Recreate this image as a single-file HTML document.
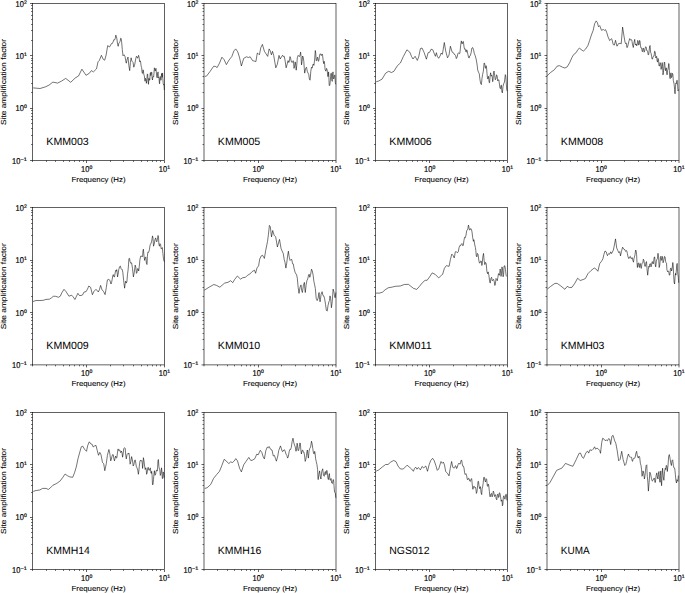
<!DOCTYPE html>
<html><head><meta charset="utf-8"><style>
html,body{margin:0;padding:0;background:#fff;}
svg{display:block;}
text{font-family:'Liberation Sans', sans-serif;fill:#000;text-rendering:geometricPrecision;}
.b{stroke:#000;stroke-width:0.08px;}
.t{stroke:#000;stroke-width:0.18px;}
</style></head><body>
<svg width="685" height="593" viewBox="0 0 685 593">
<rect width="685" height="593" fill="#fff"/>
<line x1="30.00" y1="160.50" x2="32.50" y2="160.50" stroke="#000" stroke-width="0.62"/>
<text x="26.84" y="160.55" text-anchor="end" font-size="5.1" class="t" textLength="6.30" lengthAdjust="spacingAndGlyphs">−1</text>
<text x="20.34" y="163.60" text-anchor="end" font-size="8.45" class="t" textLength="8.3" lengthAdjust="spacingAndGlyphs">10</text>
<line x1="31.00" y1="144.50" x2="32.50" y2="144.50" stroke="#000" stroke-width="0.55"/>
<line x1="31.00" y1="135.50" x2="32.50" y2="135.50" stroke="#000" stroke-width="0.55"/>
<line x1="31.00" y1="128.50" x2="32.50" y2="128.50" stroke="#000" stroke-width="0.55"/>
<line x1="31.00" y1="123.50" x2="32.50" y2="123.50" stroke="#000" stroke-width="0.55"/>
<line x1="31.00" y1="119.50" x2="32.50" y2="119.50" stroke="#000" stroke-width="0.55"/>
<line x1="31.00" y1="116.50" x2="32.50" y2="116.50" stroke="#000" stroke-width="0.55"/>
<line x1="31.00" y1="113.50" x2="32.50" y2="113.50" stroke="#000" stroke-width="0.55"/>
<line x1="31.00" y1="110.50" x2="32.50" y2="110.50" stroke="#000" stroke-width="0.55"/>
<line x1="30.00" y1="108.50" x2="32.50" y2="108.50" stroke="#000" stroke-width="0.62"/>
<text x="26.84" y="108.22" text-anchor="end" font-size="5.1" class="t">0</text>
<text x="23.80" y="111.27" text-anchor="end" font-size="8.45" class="t" textLength="8.3" lengthAdjust="spacingAndGlyphs">10</text>
<line x1="31.00" y1="92.50" x2="32.50" y2="92.50" stroke="#000" stroke-width="0.55"/>
<line x1="31.00" y1="83.50" x2="32.50" y2="83.50" stroke="#000" stroke-width="0.55"/>
<line x1="31.00" y1="76.50" x2="32.50" y2="76.50" stroke="#000" stroke-width="0.55"/>
<line x1="31.00" y1="71.50" x2="32.50" y2="71.50" stroke="#000" stroke-width="0.55"/>
<line x1="31.00" y1="67.50" x2="32.50" y2="67.50" stroke="#000" stroke-width="0.55"/>
<line x1="31.00" y1="63.50" x2="32.50" y2="63.50" stroke="#000" stroke-width="0.55"/>
<line x1="31.00" y1="60.50" x2="32.50" y2="60.50" stroke="#000" stroke-width="0.55"/>
<line x1="31.00" y1="58.50" x2="32.50" y2="58.50" stroke="#000" stroke-width="0.55"/>
<line x1="30.00" y1="55.50" x2="32.50" y2="55.50" stroke="#000" stroke-width="0.62"/>
<text x="26.84" y="55.88" text-anchor="end" font-size="5.1" class="t">1</text>
<text x="23.80" y="58.93" text-anchor="end" font-size="8.45" class="t" textLength="8.3" lengthAdjust="spacingAndGlyphs">10</text>
<line x1="31.00" y1="40.50" x2="32.50" y2="40.50" stroke="#000" stroke-width="0.55"/>
<line x1="31.00" y1="30.50" x2="32.50" y2="30.50" stroke="#000" stroke-width="0.55"/>
<line x1="31.00" y1="24.50" x2="32.50" y2="24.50" stroke="#000" stroke-width="0.55"/>
<line x1="31.00" y1="19.50" x2="32.50" y2="19.50" stroke="#000" stroke-width="0.55"/>
<line x1="31.00" y1="15.50" x2="32.50" y2="15.50" stroke="#000" stroke-width="0.55"/>
<line x1="31.00" y1="11.50" x2="32.50" y2="11.50" stroke="#000" stroke-width="0.55"/>
<line x1="31.00" y1="8.50" x2="32.50" y2="8.50" stroke="#000" stroke-width="0.55"/>
<line x1="31.00" y1="5.50" x2="32.50" y2="5.50" stroke="#000" stroke-width="0.55"/>
<line x1="30.00" y1="3.50" x2="32.50" y2="3.50" stroke="#000" stroke-width="0.62"/>
<text x="26.84" y="3.55" text-anchor="end" font-size="5.1" class="t">2</text>
<text x="23.80" y="6.60" text-anchor="end" font-size="8.45" class="t" textLength="8.3" lengthAdjust="spacingAndGlyphs">10</text>
<line x1="86.50" y1="160.50" x2="86.50" y2="163.00" stroke="#000" stroke-width="0.62"/>
<text x="81.06" y="171.75" font-size="8.45" class="t" textLength="8.3" lengthAdjust="spacingAndGlyphs">10</text>
<text x="89.56" y="168.55" font-size="5.1" class="t">0</text>
<line x1="164.50" y1="160.50" x2="164.50" y2="163.00" stroke="#000" stroke-width="0.62"/>
<text x="158.75" y="171.75" font-size="8.45" class="t" textLength="8.3" lengthAdjust="spacingAndGlyphs">10</text>
<text x="167.25" y="168.55" font-size="5.1" class="t">1</text>
<line x1="32.50" y1="160.50" x2="32.50" y2="162.00" stroke="#000" stroke-width="0.55"/>
<line x1="46.50" y1="160.50" x2="46.50" y2="162.00" stroke="#000" stroke-width="0.55"/>
<line x1="55.50" y1="160.50" x2="55.50" y2="162.00" stroke="#000" stroke-width="0.55"/>
<line x1="63.50" y1="160.50" x2="63.50" y2="162.00" stroke="#000" stroke-width="0.55"/>
<line x1="69.50" y1="160.50" x2="69.50" y2="162.00" stroke="#000" stroke-width="0.55"/>
<line x1="74.50" y1="160.50" x2="74.50" y2="162.00" stroke="#000" stroke-width="0.55"/>
<line x1="79.50" y1="160.50" x2="79.50" y2="162.00" stroke="#000" stroke-width="0.55"/>
<line x1="83.50" y1="160.50" x2="83.50" y2="162.00" stroke="#000" stroke-width="0.55"/>
<line x1="110.50" y1="160.50" x2="110.50" y2="162.00" stroke="#000" stroke-width="0.55"/>
<line x1="123.50" y1="160.50" x2="123.50" y2="162.00" stroke="#000" stroke-width="0.55"/>
<line x1="133.50" y1="160.50" x2="133.50" y2="162.00" stroke="#000" stroke-width="0.55"/>
<line x1="141.50" y1="160.50" x2="141.50" y2="162.00" stroke="#000" stroke-width="0.55"/>
<line x1="147.50" y1="160.50" x2="147.50" y2="162.00" stroke="#000" stroke-width="0.55"/>
<line x1="152.50" y1="160.50" x2="152.50" y2="162.00" stroke="#000" stroke-width="0.55"/>
<line x1="156.50" y1="160.50" x2="156.50" y2="162.00" stroke="#000" stroke-width="0.55"/>
<line x1="160.50" y1="160.50" x2="160.50" y2="162.00" stroke="#000" stroke-width="0.55"/>
<polyline points="33.10,87.90 40.10,88.50 45.50,86.80 48.90,85.20 52.90,82.10 57.60,83.10 61.70,81.00 65.70,78.40 70.70,82.30 75.20,78.00 78.50,76.00 81.90,69.20 86.00,75.30 89.30,73.30 91.40,70.60 93.40,71.90 96.50,68.80 98.00,61.80 99.30,60.50 101.40,55.30 103.10,59.10 104.70,60.20 106.10,55.10 107.70,45.60 109.50,47.00 111.50,43.60 112.30,43.50 113.10,41.90 113.80,39.78 114.50,40.00 115.15,38.65 115.80,35.10 116.35,36.44 116.90,38.90 117.55,43.91 118.20,46.30 118.90,43.01 119.60,42.30 120.15,41.23 120.70,38.20 121.15,38.51 121.60,41.60 122.30,49.59 123.00,55.80 124.00,54.72 125.00,56.40 125.65,60.51 126.30,63.20 127.15,59.21 128.00,57.10 128.85,65.68 129.70,70.60 130.40,62.52 131.10,57.80 131.75,60.55 132.40,61.80 133.10,62.60 133.80,67.20 134.80,64.09 135.80,58.40 136.45,56.26 137.10,57.10 137.55,58.24 138.00,57.00 138.60,55.34 139.20,58.00 139.60,61.65 140.00,61.70 140.35,60.81 140.70,62.40 141.05,65.67 141.40,67.10 141.70,67.80 142.00,71.90 142.35,73.44 142.70,73.20 143.05,69.82 143.40,70.80 143.75,74.14 144.10,75.20 144.40,76.13 144.70,78.90 145.05,81.22 145.40,78.30 145.90,79.07 146.40,83.30 146.85,79.96 147.30,73.90 147.65,74.33 148.00,79.30 148.25,82.94 148.50,84.30 148.80,78.59 149.10,78.30 149.45,80.27 149.80,80.00 150.15,73.70 150.50,72.50 150.80,75.62 151.10,74.60 151.45,72.19 151.80,72.20 152.15,78.79 152.50,80.00 152.85,76.73 153.20,76.60 153.60,76.97 154.00,73.20 154.35,67.81 154.70,68.50 155.20,71.00 155.70,69.20 156.00,68.37 156.30,71.90 156.75,76.84 157.20,77.90 157.65,73.04 158.10,71.90 158.45,77.88 158.80,77.30 159.10,78.89 159.40,83.30 159.65,83.85 159.90,77.90 160.25,76.41 160.60,77.30 160.95,80.29 161.30,76.60 161.60,73.44 161.90,75.20 162.15,77.37 162.40,73.50 162.60,72.95 162.80,77.30 163.20,83.45 163.60,84.70 163.95,84.04 164.30,90.10" fill="none" stroke="#000" stroke-width="0.55" stroke-linejoin="round"/>
<rect x="32.50" y="3.50" width="132.0" height="157.00" fill="none" stroke="#000" stroke-width="0.62"/>
<text x="46.30" y="144.60" font-size="10.5" textLength="42.47" lengthAdjust="spacingAndGlyphs">KMM003</text>
<text x="98.50" y="182.00" text-anchor="middle" font-size="7.3" class="b" textLength="54" lengthAdjust="spacingAndGlyphs">Frequency (Hz)</text>
<text transform="translate(6.00,82.00) rotate(-90)" text-anchor="middle" font-size="7.3" class="b" textLength="86" lengthAdjust="spacingAndGlyphs">Site amplification factor</text>
<line x1="201.50" y1="160.50" x2="204.00" y2="160.50" stroke="#000" stroke-width="0.62"/>
<text x="198.34" y="160.55" text-anchor="end" font-size="5.1" class="t" textLength="6.30" lengthAdjust="spacingAndGlyphs">−1</text>
<text x="191.84" y="163.60" text-anchor="end" font-size="8.45" class="t" textLength="8.3" lengthAdjust="spacingAndGlyphs">10</text>
<line x1="202.50" y1="144.50" x2="204.00" y2="144.50" stroke="#000" stroke-width="0.55"/>
<line x1="202.50" y1="135.50" x2="204.00" y2="135.50" stroke="#000" stroke-width="0.55"/>
<line x1="202.50" y1="128.50" x2="204.00" y2="128.50" stroke="#000" stroke-width="0.55"/>
<line x1="202.50" y1="123.50" x2="204.00" y2="123.50" stroke="#000" stroke-width="0.55"/>
<line x1="202.50" y1="119.50" x2="204.00" y2="119.50" stroke="#000" stroke-width="0.55"/>
<line x1="202.50" y1="116.50" x2="204.00" y2="116.50" stroke="#000" stroke-width="0.55"/>
<line x1="202.50" y1="113.50" x2="204.00" y2="113.50" stroke="#000" stroke-width="0.55"/>
<line x1="202.50" y1="110.50" x2="204.00" y2="110.50" stroke="#000" stroke-width="0.55"/>
<line x1="201.50" y1="108.50" x2="204.00" y2="108.50" stroke="#000" stroke-width="0.62"/>
<text x="198.34" y="108.22" text-anchor="end" font-size="5.1" class="t">0</text>
<text x="195.30" y="111.27" text-anchor="end" font-size="8.45" class="t" textLength="8.3" lengthAdjust="spacingAndGlyphs">10</text>
<line x1="202.50" y1="92.50" x2="204.00" y2="92.50" stroke="#000" stroke-width="0.55"/>
<line x1="202.50" y1="83.50" x2="204.00" y2="83.50" stroke="#000" stroke-width="0.55"/>
<line x1="202.50" y1="76.50" x2="204.00" y2="76.50" stroke="#000" stroke-width="0.55"/>
<line x1="202.50" y1="71.50" x2="204.00" y2="71.50" stroke="#000" stroke-width="0.55"/>
<line x1="202.50" y1="67.50" x2="204.00" y2="67.50" stroke="#000" stroke-width="0.55"/>
<line x1="202.50" y1="63.50" x2="204.00" y2="63.50" stroke="#000" stroke-width="0.55"/>
<line x1="202.50" y1="60.50" x2="204.00" y2="60.50" stroke="#000" stroke-width="0.55"/>
<line x1="202.50" y1="58.50" x2="204.00" y2="58.50" stroke="#000" stroke-width="0.55"/>
<line x1="201.50" y1="55.50" x2="204.00" y2="55.50" stroke="#000" stroke-width="0.62"/>
<text x="198.34" y="55.88" text-anchor="end" font-size="5.1" class="t">1</text>
<text x="195.30" y="58.93" text-anchor="end" font-size="8.45" class="t" textLength="8.3" lengthAdjust="spacingAndGlyphs">10</text>
<line x1="202.50" y1="40.50" x2="204.00" y2="40.50" stroke="#000" stroke-width="0.55"/>
<line x1="202.50" y1="30.50" x2="204.00" y2="30.50" stroke="#000" stroke-width="0.55"/>
<line x1="202.50" y1="24.50" x2="204.00" y2="24.50" stroke="#000" stroke-width="0.55"/>
<line x1="202.50" y1="19.50" x2="204.00" y2="19.50" stroke="#000" stroke-width="0.55"/>
<line x1="202.50" y1="15.50" x2="204.00" y2="15.50" stroke="#000" stroke-width="0.55"/>
<line x1="202.50" y1="11.50" x2="204.00" y2="11.50" stroke="#000" stroke-width="0.55"/>
<line x1="202.50" y1="8.50" x2="204.00" y2="8.50" stroke="#000" stroke-width="0.55"/>
<line x1="202.50" y1="5.50" x2="204.00" y2="5.50" stroke="#000" stroke-width="0.55"/>
<line x1="201.50" y1="3.50" x2="204.00" y2="3.50" stroke="#000" stroke-width="0.62"/>
<text x="198.34" y="3.55" text-anchor="end" font-size="5.1" class="t">2</text>
<text x="195.30" y="6.60" text-anchor="end" font-size="8.45" class="t" textLength="8.3" lengthAdjust="spacingAndGlyphs">10</text>
<line x1="258.50" y1="160.50" x2="258.50" y2="163.00" stroke="#000" stroke-width="0.62"/>
<text x="252.56" y="171.75" font-size="8.45" class="t" textLength="8.3" lengthAdjust="spacingAndGlyphs">10</text>
<text x="261.06" y="168.55" font-size="5.1" class="t">0</text>
<line x1="336.00" y1="160.50" x2="336.00" y2="163.00" stroke="#000" stroke-width="0.62"/>
<text x="330.25" y="171.75" font-size="8.45" class="t" textLength="8.3" lengthAdjust="spacingAndGlyphs">10</text>
<text x="338.75" y="168.55" font-size="5.1" class="t">1</text>
<line x1="204.00" y1="160.50" x2="204.00" y2="162.00" stroke="#000" stroke-width="0.55"/>
<line x1="217.50" y1="160.50" x2="217.50" y2="162.00" stroke="#000" stroke-width="0.55"/>
<line x1="227.50" y1="160.50" x2="227.50" y2="162.00" stroke="#000" stroke-width="0.55"/>
<line x1="234.50" y1="160.50" x2="234.50" y2="162.00" stroke="#000" stroke-width="0.55"/>
<line x1="241.50" y1="160.50" x2="241.50" y2="162.00" stroke="#000" stroke-width="0.55"/>
<line x1="246.50" y1="160.50" x2="246.50" y2="162.00" stroke="#000" stroke-width="0.55"/>
<line x1="250.50" y1="160.50" x2="250.50" y2="162.00" stroke="#000" stroke-width="0.55"/>
<line x1="254.50" y1="160.50" x2="254.50" y2="162.00" stroke="#000" stroke-width="0.55"/>
<line x1="281.50" y1="160.50" x2="281.50" y2="162.00" stroke="#000" stroke-width="0.55"/>
<line x1="295.50" y1="160.50" x2="295.50" y2="162.00" stroke="#000" stroke-width="0.55"/>
<line x1="305.50" y1="160.50" x2="305.50" y2="162.00" stroke="#000" stroke-width="0.55"/>
<line x1="312.50" y1="160.50" x2="312.50" y2="162.00" stroke="#000" stroke-width="0.55"/>
<line x1="318.50" y1="160.50" x2="318.50" y2="162.00" stroke="#000" stroke-width="0.55"/>
<line x1="323.50" y1="160.50" x2="323.50" y2="162.00" stroke="#000" stroke-width="0.55"/>
<line x1="328.50" y1="160.50" x2="328.50" y2="162.00" stroke="#000" stroke-width="0.55"/>
<line x1="332.50" y1="160.50" x2="332.50" y2="162.00" stroke="#000" stroke-width="0.55"/>
<polyline points="204.80,76.40 206.50,76.10 210.10,71.40 213.60,66.30 215.20,66.30 217.20,67.50 219.50,63.10 221.90,57.20 224.00,59.50 226.40,64.60 229.00,60.10 231.90,56.40 233.90,50.90 235.70,48.90 237.80,51.90 239.60,57.80 241.40,66.00 243.70,58.40 246.40,56.80 248.40,57.50 250.20,56.80 252.60,60.70 254.40,61.10 255.90,61.60 257.30,53.10 258.20,53.60 259.40,54.80 260.80,47.70 262.40,44.40 264.40,51.30 267.70,56.40 269.10,48.90 270.20,50.70 271.40,54.80 272.50,51.30 273.70,55.40 275.80,67.80 277.30,64.30 279.00,55.40 280.20,59.00 282.60,55.20 283.45,56.64 284.30,56.40 285.20,61.21 286.10,67.80 287.00,64.87 287.90,60.70 288.35,60.85 288.80,62.50 289.40,60.94 290.00,56.60 290.70,58.70 291.40,61.90 292.30,62.53 293.20,60.70 293.60,63.09 294.00,68.40 294.60,66.20 295.20,61.90 295.70,64.91 296.20,70.20 296.75,65.49 297.30,57.80 298.20,55.35 299.10,56.60 299.85,56.12 300.60,52.10 301.05,56.48 301.50,64.90 302.05,61.67 302.60,56.00 303.20,57.15 303.80,61.30 304.25,68.27 304.70,73.10 305.60,68.41 306.50,67.20 307.25,71.22 308.00,73.10 308.70,74.21 309.40,79.15 310.10,80.20 310.80,71.26 311.50,67.20 312.20,68.14 312.90,64.60 313.40,64.00 313.90,65.40 314.60,60.08 315.30,50.50 315.75,53.30 316.20,60.70 316.80,60.53 317.40,57.20 317.85,58.14 318.30,61.30 318.90,60.72 319.50,55.40 320.10,53.81 320.70,54.20 321.30,55.60 321.90,54.00 322.50,54.38 323.10,60.10 323.65,63.61 324.20,61.30 324.65,64.19 325.10,69.60 325.85,71.16 326.60,68.40 327.20,70.02 327.80,76.70 328.20,76.44 328.60,71.90 328.90,77.45 329.20,85.50 329.80,85.38 330.40,80.20 330.85,73.51 331.30,73.10 331.75,79.48 332.20,81.40 332.60,73.82 333.00,71.90 333.45,78.45 333.90,79.00 334.40,75.55 334.90,74.90 335.30,82.26 335.70,84.30" fill="none" stroke="#000" stroke-width="0.55" stroke-linejoin="round"/>
<rect x="204.00" y="3.50" width="132.0" height="157.00" fill="none" stroke="#000" stroke-width="0.62"/>
<text x="217.80" y="144.60" font-size="10.5" textLength="42.47" lengthAdjust="spacingAndGlyphs">KMM005</text>
<text x="270.00" y="182.00" text-anchor="middle" font-size="7.3" class="b" textLength="54" lengthAdjust="spacingAndGlyphs">Frequency (Hz)</text>
<text transform="translate(177.50,82.00) rotate(-90)" text-anchor="middle" font-size="7.3" class="b" textLength="86" lengthAdjust="spacingAndGlyphs">Site amplification factor</text>
<line x1="373.00" y1="160.50" x2="375.50" y2="160.50" stroke="#000" stroke-width="0.62"/>
<text x="369.84" y="160.55" text-anchor="end" font-size="5.1" class="t" textLength="6.30" lengthAdjust="spacingAndGlyphs">−1</text>
<text x="363.34" y="163.60" text-anchor="end" font-size="8.45" class="t" textLength="8.3" lengthAdjust="spacingAndGlyphs">10</text>
<line x1="374.00" y1="144.50" x2="375.50" y2="144.50" stroke="#000" stroke-width="0.55"/>
<line x1="374.00" y1="135.50" x2="375.50" y2="135.50" stroke="#000" stroke-width="0.55"/>
<line x1="374.00" y1="128.50" x2="375.50" y2="128.50" stroke="#000" stroke-width="0.55"/>
<line x1="374.00" y1="123.50" x2="375.50" y2="123.50" stroke="#000" stroke-width="0.55"/>
<line x1="374.00" y1="119.50" x2="375.50" y2="119.50" stroke="#000" stroke-width="0.55"/>
<line x1="374.00" y1="116.50" x2="375.50" y2="116.50" stroke="#000" stroke-width="0.55"/>
<line x1="374.00" y1="113.50" x2="375.50" y2="113.50" stroke="#000" stroke-width="0.55"/>
<line x1="374.00" y1="110.50" x2="375.50" y2="110.50" stroke="#000" stroke-width="0.55"/>
<line x1="373.00" y1="108.50" x2="375.50" y2="108.50" stroke="#000" stroke-width="0.62"/>
<text x="369.84" y="108.22" text-anchor="end" font-size="5.1" class="t">0</text>
<text x="366.80" y="111.27" text-anchor="end" font-size="8.45" class="t" textLength="8.3" lengthAdjust="spacingAndGlyphs">10</text>
<line x1="374.00" y1="92.50" x2="375.50" y2="92.50" stroke="#000" stroke-width="0.55"/>
<line x1="374.00" y1="83.50" x2="375.50" y2="83.50" stroke="#000" stroke-width="0.55"/>
<line x1="374.00" y1="76.50" x2="375.50" y2="76.50" stroke="#000" stroke-width="0.55"/>
<line x1="374.00" y1="71.50" x2="375.50" y2="71.50" stroke="#000" stroke-width="0.55"/>
<line x1="374.00" y1="67.50" x2="375.50" y2="67.50" stroke="#000" stroke-width="0.55"/>
<line x1="374.00" y1="63.50" x2="375.50" y2="63.50" stroke="#000" stroke-width="0.55"/>
<line x1="374.00" y1="60.50" x2="375.50" y2="60.50" stroke="#000" stroke-width="0.55"/>
<line x1="374.00" y1="58.50" x2="375.50" y2="58.50" stroke="#000" stroke-width="0.55"/>
<line x1="373.00" y1="55.50" x2="375.50" y2="55.50" stroke="#000" stroke-width="0.62"/>
<text x="369.84" y="55.88" text-anchor="end" font-size="5.1" class="t">1</text>
<text x="366.80" y="58.93" text-anchor="end" font-size="8.45" class="t" textLength="8.3" lengthAdjust="spacingAndGlyphs">10</text>
<line x1="374.00" y1="40.50" x2="375.50" y2="40.50" stroke="#000" stroke-width="0.55"/>
<line x1="374.00" y1="30.50" x2="375.50" y2="30.50" stroke="#000" stroke-width="0.55"/>
<line x1="374.00" y1="24.50" x2="375.50" y2="24.50" stroke="#000" stroke-width="0.55"/>
<line x1="374.00" y1="19.50" x2="375.50" y2="19.50" stroke="#000" stroke-width="0.55"/>
<line x1="374.00" y1="15.50" x2="375.50" y2="15.50" stroke="#000" stroke-width="0.55"/>
<line x1="374.00" y1="11.50" x2="375.50" y2="11.50" stroke="#000" stroke-width="0.55"/>
<line x1="374.00" y1="8.50" x2="375.50" y2="8.50" stroke="#000" stroke-width="0.55"/>
<line x1="374.00" y1="5.50" x2="375.50" y2="5.50" stroke="#000" stroke-width="0.55"/>
<line x1="373.00" y1="3.50" x2="375.50" y2="3.50" stroke="#000" stroke-width="0.62"/>
<text x="369.84" y="3.55" text-anchor="end" font-size="5.1" class="t">2</text>
<text x="366.80" y="6.60" text-anchor="end" font-size="8.45" class="t" textLength="8.3" lengthAdjust="spacingAndGlyphs">10</text>
<line x1="429.50" y1="160.50" x2="429.50" y2="163.00" stroke="#000" stroke-width="0.62"/>
<text x="424.06" y="171.75" font-size="8.45" class="t" textLength="8.3" lengthAdjust="spacingAndGlyphs">10</text>
<text x="432.56" y="168.55" font-size="5.1" class="t">0</text>
<line x1="507.50" y1="160.50" x2="507.50" y2="163.00" stroke="#000" stroke-width="0.62"/>
<text x="501.75" y="171.75" font-size="8.45" class="t" textLength="8.3" lengthAdjust="spacingAndGlyphs">10</text>
<text x="510.25" y="168.55" font-size="5.1" class="t">1</text>
<line x1="375.50" y1="160.50" x2="375.50" y2="162.00" stroke="#000" stroke-width="0.55"/>
<line x1="389.50" y1="160.50" x2="389.50" y2="162.00" stroke="#000" stroke-width="0.55"/>
<line x1="398.50" y1="160.50" x2="398.50" y2="162.00" stroke="#000" stroke-width="0.55"/>
<line x1="406.50" y1="160.50" x2="406.50" y2="162.00" stroke="#000" stroke-width="0.55"/>
<line x1="412.50" y1="160.50" x2="412.50" y2="162.00" stroke="#000" stroke-width="0.55"/>
<line x1="417.50" y1="160.50" x2="417.50" y2="162.00" stroke="#000" stroke-width="0.55"/>
<line x1="422.50" y1="160.50" x2="422.50" y2="162.00" stroke="#000" stroke-width="0.55"/>
<line x1="426.50" y1="160.50" x2="426.50" y2="162.00" stroke="#000" stroke-width="0.55"/>
<line x1="453.50" y1="160.50" x2="453.50" y2="162.00" stroke="#000" stroke-width="0.55"/>
<line x1="466.50" y1="160.50" x2="466.50" y2="162.00" stroke="#000" stroke-width="0.55"/>
<line x1="476.50" y1="160.50" x2="476.50" y2="162.00" stroke="#000" stroke-width="0.55"/>
<line x1="484.50" y1="160.50" x2="484.50" y2="162.00" stroke="#000" stroke-width="0.55"/>
<line x1="490.50" y1="160.50" x2="490.50" y2="162.00" stroke="#000" stroke-width="0.55"/>
<line x1="495.50" y1="160.50" x2="495.50" y2="162.00" stroke="#000" stroke-width="0.55"/>
<line x1="499.50" y1="160.50" x2="499.50" y2="162.00" stroke="#000" stroke-width="0.55"/>
<line x1="503.50" y1="160.50" x2="503.50" y2="162.00" stroke="#000" stroke-width="0.55"/>
<polyline points="376.20,81.70 378.50,81.10 382.10,79.10 385.60,73.20 388.60,71.30 391.50,72.50 393.90,71.30 397.40,65.70 400.40,63.00 403.30,56.60 406.90,49.80 409.80,52.20 411.60,56.60 413.00,59.00 415.10,56.30 417.30,60.40 418.70,56.90 420.40,48.60 422.00,48.00 424.00,52.20 426.40,59.20 428.10,52.70 429.50,52.40 431.10,49.20 432.80,49.80 434.60,54.50 435.40,56.30 436.40,52.70 437.30,56.30 438.70,58.30 440.50,55.10 441.00,53.10 442.40,54.30 444.30,42.50 445.70,51.00 447.50,57.80 449.00,55.10 450.40,46.20 452.20,52.20 454.00,53.30 454.45,54.55 454.90,54.50 455.60,55.56 456.30,58.60 457.10,57.17 457.90,53.57 458.70,52.70 459.30,53.77 459.90,53.30 460.60,45.93 461.30,40.90 461.75,42.95 462.20,43.90 462.80,41.81 463.40,41.50 464.00,46.84 464.60,49.20 465.20,48.86 465.80,51.60 466.25,52.19 466.70,49.80 467.30,51.18 467.90,54.50 468.50,57.18 469.10,58.10 469.70,55.97 470.30,55.70 471.10,52.79 471.90,48.00 472.70,47.57 473.50,49.60 474.35,53.59 475.20,55.70 476.10,58.89 477.00,64.00 477.75,70.23 478.50,72.20 479.25,73.78 480.00,79.90 480.70,83.77 481.40,84.60 482.00,78.26 482.60,74.60 483.35,71.12 484.10,63.00 484.70,63.45 485.30,68.10 485.70,68.36 486.10,65.70 486.55,67.77 487.00,73.40 487.50,78.67 488.00,78.70 488.40,76.29 488.80,79.30 489.20,82.65 489.60,82.80 490.10,75.98 490.60,72.80 491.20,76.16 491.80,75.20 492.25,77.16 492.70,81.70 493.10,79.57 493.50,72.20 494.10,71.07 494.70,75.80 495.30,79.75 495.90,78.70 496.50,74.79 497.10,75.80 497.70,80.88 498.30,79.90 498.85,79.76 499.40,84.00 500.00,88.34 500.60,88.70 501.00,85.29 501.40,85.20 501.90,92.02 502.40,92.90 503.00,86.39 503.60,84.00 504.45,82.10 505.30,74.60 505.75,75.77 506.20,81.70 506.65,88.99 507.10,91.10" fill="none" stroke="#000" stroke-width="0.55" stroke-linejoin="round"/>
<rect x="375.50" y="3.50" width="132.0" height="157.00" fill="none" stroke="#000" stroke-width="0.62"/>
<text x="389.30" y="144.60" font-size="10.5" textLength="42.47" lengthAdjust="spacingAndGlyphs">KMM006</text>
<text x="441.50" y="182.00" text-anchor="middle" font-size="7.3" class="b" textLength="54" lengthAdjust="spacingAndGlyphs">Frequency (Hz)</text>
<text transform="translate(349.00,82.00) rotate(-90)" text-anchor="middle" font-size="7.3" class="b" textLength="86" lengthAdjust="spacingAndGlyphs">Site amplification factor</text>
<line x1="544.50" y1="160.50" x2="547.00" y2="160.50" stroke="#000" stroke-width="0.62"/>
<text x="541.34" y="160.55" text-anchor="end" font-size="5.1" class="t" textLength="6.30" lengthAdjust="spacingAndGlyphs">−1</text>
<text x="534.84" y="163.60" text-anchor="end" font-size="8.45" class="t" textLength="8.3" lengthAdjust="spacingAndGlyphs">10</text>
<line x1="545.50" y1="144.50" x2="547.00" y2="144.50" stroke="#000" stroke-width="0.55"/>
<line x1="545.50" y1="135.50" x2="547.00" y2="135.50" stroke="#000" stroke-width="0.55"/>
<line x1="545.50" y1="128.50" x2="547.00" y2="128.50" stroke="#000" stroke-width="0.55"/>
<line x1="545.50" y1="123.50" x2="547.00" y2="123.50" stroke="#000" stroke-width="0.55"/>
<line x1="545.50" y1="119.50" x2="547.00" y2="119.50" stroke="#000" stroke-width="0.55"/>
<line x1="545.50" y1="116.50" x2="547.00" y2="116.50" stroke="#000" stroke-width="0.55"/>
<line x1="545.50" y1="113.50" x2="547.00" y2="113.50" stroke="#000" stroke-width="0.55"/>
<line x1="545.50" y1="110.50" x2="547.00" y2="110.50" stroke="#000" stroke-width="0.55"/>
<line x1="544.50" y1="108.50" x2="547.00" y2="108.50" stroke="#000" stroke-width="0.62"/>
<text x="541.34" y="108.22" text-anchor="end" font-size="5.1" class="t">0</text>
<text x="538.30" y="111.27" text-anchor="end" font-size="8.45" class="t" textLength="8.3" lengthAdjust="spacingAndGlyphs">10</text>
<line x1="545.50" y1="92.50" x2="547.00" y2="92.50" stroke="#000" stroke-width="0.55"/>
<line x1="545.50" y1="83.50" x2="547.00" y2="83.50" stroke="#000" stroke-width="0.55"/>
<line x1="545.50" y1="76.50" x2="547.00" y2="76.50" stroke="#000" stroke-width="0.55"/>
<line x1="545.50" y1="71.50" x2="547.00" y2="71.50" stroke="#000" stroke-width="0.55"/>
<line x1="545.50" y1="67.50" x2="547.00" y2="67.50" stroke="#000" stroke-width="0.55"/>
<line x1="545.50" y1="63.50" x2="547.00" y2="63.50" stroke="#000" stroke-width="0.55"/>
<line x1="545.50" y1="60.50" x2="547.00" y2="60.50" stroke="#000" stroke-width="0.55"/>
<line x1="545.50" y1="58.50" x2="547.00" y2="58.50" stroke="#000" stroke-width="0.55"/>
<line x1="544.50" y1="55.50" x2="547.00" y2="55.50" stroke="#000" stroke-width="0.62"/>
<text x="541.34" y="55.88" text-anchor="end" font-size="5.1" class="t">1</text>
<text x="538.30" y="58.93" text-anchor="end" font-size="8.45" class="t" textLength="8.3" lengthAdjust="spacingAndGlyphs">10</text>
<line x1="545.50" y1="40.50" x2="547.00" y2="40.50" stroke="#000" stroke-width="0.55"/>
<line x1="545.50" y1="30.50" x2="547.00" y2="30.50" stroke="#000" stroke-width="0.55"/>
<line x1="545.50" y1="24.50" x2="547.00" y2="24.50" stroke="#000" stroke-width="0.55"/>
<line x1="545.50" y1="19.50" x2="547.00" y2="19.50" stroke="#000" stroke-width="0.55"/>
<line x1="545.50" y1="15.50" x2="547.00" y2="15.50" stroke="#000" stroke-width="0.55"/>
<line x1="545.50" y1="11.50" x2="547.00" y2="11.50" stroke="#000" stroke-width="0.55"/>
<line x1="545.50" y1="8.50" x2="547.00" y2="8.50" stroke="#000" stroke-width="0.55"/>
<line x1="545.50" y1="5.50" x2="547.00" y2="5.50" stroke="#000" stroke-width="0.55"/>
<line x1="544.50" y1="3.50" x2="547.00" y2="3.50" stroke="#000" stroke-width="0.62"/>
<text x="541.34" y="3.55" text-anchor="end" font-size="5.1" class="t">2</text>
<text x="538.30" y="6.60" text-anchor="end" font-size="8.45" class="t" textLength="8.3" lengthAdjust="spacingAndGlyphs">10</text>
<line x1="601.50" y1="160.50" x2="601.50" y2="163.00" stroke="#000" stroke-width="0.62"/>
<text x="595.56" y="171.75" font-size="8.45" class="t" textLength="8.3" lengthAdjust="spacingAndGlyphs">10</text>
<text x="604.06" y="168.55" font-size="5.1" class="t">0</text>
<line x1="679.00" y1="160.50" x2="679.00" y2="163.00" stroke="#000" stroke-width="0.62"/>
<text x="673.25" y="171.75" font-size="8.45" class="t" textLength="8.3" lengthAdjust="spacingAndGlyphs">10</text>
<text x="681.75" y="168.55" font-size="5.1" class="t">1</text>
<line x1="547.00" y1="160.50" x2="547.00" y2="162.00" stroke="#000" stroke-width="0.55"/>
<line x1="560.50" y1="160.50" x2="560.50" y2="162.00" stroke="#000" stroke-width="0.55"/>
<line x1="570.50" y1="160.50" x2="570.50" y2="162.00" stroke="#000" stroke-width="0.55"/>
<line x1="577.50" y1="160.50" x2="577.50" y2="162.00" stroke="#000" stroke-width="0.55"/>
<line x1="584.50" y1="160.50" x2="584.50" y2="162.00" stroke="#000" stroke-width="0.55"/>
<line x1="589.50" y1="160.50" x2="589.50" y2="162.00" stroke="#000" stroke-width="0.55"/>
<line x1="593.50" y1="160.50" x2="593.50" y2="162.00" stroke="#000" stroke-width="0.55"/>
<line x1="597.50" y1="160.50" x2="597.50" y2="162.00" stroke="#000" stroke-width="0.55"/>
<line x1="624.50" y1="160.50" x2="624.50" y2="162.00" stroke="#000" stroke-width="0.55"/>
<line x1="638.50" y1="160.50" x2="638.50" y2="162.00" stroke="#000" stroke-width="0.55"/>
<line x1="648.50" y1="160.50" x2="648.50" y2="162.00" stroke="#000" stroke-width="0.55"/>
<line x1="655.50" y1="160.50" x2="655.50" y2="162.00" stroke="#000" stroke-width="0.55"/>
<line x1="661.50" y1="160.50" x2="661.50" y2="162.00" stroke="#000" stroke-width="0.55"/>
<line x1="666.50" y1="160.50" x2="666.50" y2="162.00" stroke="#000" stroke-width="0.55"/>
<line x1="671.50" y1="160.50" x2="671.50" y2="162.00" stroke="#000" stroke-width="0.55"/>
<line x1="675.50" y1="160.50" x2="675.50" y2="162.00" stroke="#000" stroke-width="0.55"/>
<polyline points="547.20,75.70 550.70,72.40 554.30,69.80 557.20,66.10 559.60,65.70 562.50,67.20 564.90,68.00 567.20,66.90 569.60,62.80 572.00,57.40 573.70,54.50 576.10,52.70 577.90,49.50 579.60,48.00 581.40,50.00 583.50,51.00 585.50,49.20 587.90,45.60 589.70,40.30 591.40,35.00 593.20,30.30 594.60,23.80 596.20,20.90 597.40,22.60 598.50,26.80 599.70,25.60 601.50,30.30 603.30,29.50 604.40,30.30 605.60,29.70 606.80,32.70 608.00,36.80 609.70,40.60 611.50,38.60 612.00,39.70 613.20,44.50 614.40,45.10 615.50,40.30 617.00,46.20 618.50,43.60 620.30,43.30 621.20,43.90 622.60,27.10 623.80,35.00 625.00,42.10 625.60,43.64 626.20,42.90 626.50,43.91 626.80,47.40 627.35,47.38 627.90,45.60 628.80,41.62 629.70,38.60 630.60,40.09 631.50,39.70 631.75,39.90 632.00,41.40 632.65,45.06 633.30,47.50 634.00,42.62 634.70,39.40 635.20,43.71 635.70,45.10 636.20,43.92 636.70,45.80 637.20,44.71 637.70,40.40 638.20,41.15 638.70,45.10 639.15,44.15 639.60,40.40 640.00,41.03 640.40,45.10 640.90,47.92 641.40,48.10 641.75,47.94 642.10,51.50 642.60,51.57 643.10,48.10 643.60,48.45 644.10,52.20 644.60,51.31 645.10,48.50 645.65,46.71 646.20,47.10 646.70,50.45 647.20,50.50 647.70,51.78 648.20,54.90 648.70,54.55 649.20,50.20 649.65,46.06 650.10,45.50 650.40,49.82 650.70,52.50 651.15,53.63 651.60,56.60 652.10,59.22 652.60,58.90 653.10,56.54 653.60,56.20 654.10,56.14 654.60,51.20 655.05,51.52 655.50,54.60 655.90,58.00 656.30,56.70 656.70,56.30 657.10,61.00 657.55,62.11 658.00,58.40 658.50,59.68 659.00,66.00 659.55,65.95 660.10,62.60 660.60,63.82 661.10,69.40 661.65,66.94 662.20,62.60 662.60,66.85 663.00,74.90 663.45,72.38 663.90,66.90 664.30,62.00 664.70,62.60 665.10,68.24 665.50,70.70 665.95,67.66 666.40,68.10 666.80,74.42 667.20,74.90 667.50,70.48 667.80,69.80 668.25,68.08 668.70,63.50 669.00,63.87 669.30,70.20 669.75,77.30 670.20,78.70 670.60,74.07 671.00,72.80 671.45,77.62 671.90,77.00 672.40,73.32 672.90,74.50 673.30,80.45 673.70,82.00 674.15,84.30 674.60,89.60 674.85,93.16 675.10,93.80 675.50,86.18 675.90,82.90 676.35,83.64 676.80,80.40 677.20,80.30 677.60,85.40 678.00,90.91 678.40,89.60" fill="none" stroke="#000" stroke-width="0.55" stroke-linejoin="round"/>
<rect x="547.00" y="3.50" width="132.0" height="157.00" fill="none" stroke="#000" stroke-width="0.62"/>
<text x="560.80" y="144.60" font-size="10.5" textLength="42.47" lengthAdjust="spacingAndGlyphs">KMM008</text>
<text x="613.00" y="182.00" text-anchor="middle" font-size="7.3" class="b" textLength="54" lengthAdjust="spacingAndGlyphs">Frequency (Hz)</text>
<text transform="translate(520.50,82.00) rotate(-90)" text-anchor="middle" font-size="7.3" class="b" textLength="86" lengthAdjust="spacingAndGlyphs">Site amplification factor</text>
<line x1="30.00" y1="364.90" x2="32.50" y2="364.90" stroke="#000" stroke-width="0.62"/>
<text x="26.84" y="364.90" text-anchor="end" font-size="5.1" class="t" textLength="6.30" lengthAdjust="spacingAndGlyphs">−1</text>
<text x="20.34" y="367.95" text-anchor="end" font-size="8.45" class="t" textLength="8.3" lengthAdjust="spacingAndGlyphs">10</text>
<line x1="31.00" y1="349.50" x2="32.50" y2="349.50" stroke="#000" stroke-width="0.55"/>
<line x1="31.00" y1="339.50" x2="32.50" y2="339.50" stroke="#000" stroke-width="0.55"/>
<line x1="31.00" y1="333.50" x2="32.50" y2="333.50" stroke="#000" stroke-width="0.55"/>
<line x1="31.00" y1="328.50" x2="32.50" y2="328.50" stroke="#000" stroke-width="0.55"/>
<line x1="31.00" y1="324.50" x2="32.50" y2="324.50" stroke="#000" stroke-width="0.55"/>
<line x1="31.00" y1="320.50" x2="32.50" y2="320.50" stroke="#000" stroke-width="0.55"/>
<line x1="31.00" y1="317.50" x2="32.50" y2="317.50" stroke="#000" stroke-width="0.55"/>
<line x1="31.00" y1="314.50" x2="32.50" y2="314.50" stroke="#000" stroke-width="0.55"/>
<line x1="30.00" y1="312.50" x2="32.50" y2="312.50" stroke="#000" stroke-width="0.62"/>
<text x="26.84" y="312.57" text-anchor="end" font-size="5.1" class="t">0</text>
<text x="23.80" y="315.62" text-anchor="end" font-size="8.45" class="t" textLength="8.3" lengthAdjust="spacingAndGlyphs">10</text>
<line x1="31.00" y1="296.50" x2="32.50" y2="296.50" stroke="#000" stroke-width="0.55"/>
<line x1="31.00" y1="287.50" x2="32.50" y2="287.50" stroke="#000" stroke-width="0.55"/>
<line x1="31.00" y1="281.50" x2="32.50" y2="281.50" stroke="#000" stroke-width="0.55"/>
<line x1="31.00" y1="275.50" x2="32.50" y2="275.50" stroke="#000" stroke-width="0.55"/>
<line x1="31.00" y1="271.50" x2="32.50" y2="271.50" stroke="#000" stroke-width="0.55"/>
<line x1="31.00" y1="268.50" x2="32.50" y2="268.50" stroke="#000" stroke-width="0.55"/>
<line x1="31.00" y1="265.50" x2="32.50" y2="265.50" stroke="#000" stroke-width="0.55"/>
<line x1="31.00" y1="262.50" x2="32.50" y2="262.50" stroke="#000" stroke-width="0.55"/>
<line x1="30.00" y1="260.50" x2="32.50" y2="260.50" stroke="#000" stroke-width="0.62"/>
<text x="26.84" y="260.23" text-anchor="end" font-size="5.1" class="t">1</text>
<text x="23.80" y="263.28" text-anchor="end" font-size="8.45" class="t" textLength="8.3" lengthAdjust="spacingAndGlyphs">10</text>
<line x1="31.00" y1="244.50" x2="32.50" y2="244.50" stroke="#000" stroke-width="0.55"/>
<line x1="31.00" y1="235.50" x2="32.50" y2="235.50" stroke="#000" stroke-width="0.55"/>
<line x1="31.00" y1="228.50" x2="32.50" y2="228.50" stroke="#000" stroke-width="0.55"/>
<line x1="31.00" y1="223.50" x2="32.50" y2="223.50" stroke="#000" stroke-width="0.55"/>
<line x1="31.00" y1="219.50" x2="32.50" y2="219.50" stroke="#000" stroke-width="0.55"/>
<line x1="31.00" y1="215.50" x2="32.50" y2="215.50" stroke="#000" stroke-width="0.55"/>
<line x1="31.00" y1="212.50" x2="32.50" y2="212.50" stroke="#000" stroke-width="0.55"/>
<line x1="31.00" y1="210.50" x2="32.50" y2="210.50" stroke="#000" stroke-width="0.55"/>
<line x1="30.00" y1="207.55" x2="32.50" y2="207.55" stroke="#000" stroke-width="0.62"/>
<text x="26.84" y="207.90" text-anchor="end" font-size="5.1" class="t">2</text>
<text x="23.80" y="210.95" text-anchor="end" font-size="8.45" class="t" textLength="8.3" lengthAdjust="spacingAndGlyphs">10</text>
<line x1="86.50" y1="364.90" x2="86.50" y2="367.40" stroke="#000" stroke-width="0.62"/>
<text x="81.06" y="376.15" font-size="8.45" class="t" textLength="8.3" lengthAdjust="spacingAndGlyphs">10</text>
<text x="89.56" y="372.95" font-size="5.1" class="t">0</text>
<line x1="164.50" y1="364.90" x2="164.50" y2="367.40" stroke="#000" stroke-width="0.62"/>
<text x="158.75" y="376.15" font-size="8.45" class="t" textLength="8.3" lengthAdjust="spacingAndGlyphs">10</text>
<text x="167.25" y="372.95" font-size="5.1" class="t">1</text>
<line x1="32.50" y1="364.90" x2="32.50" y2="366.40" stroke="#000" stroke-width="0.55"/>
<line x1="46.50" y1="364.90" x2="46.50" y2="366.40" stroke="#000" stroke-width="0.55"/>
<line x1="55.50" y1="364.90" x2="55.50" y2="366.40" stroke="#000" stroke-width="0.55"/>
<line x1="63.50" y1="364.90" x2="63.50" y2="366.40" stroke="#000" stroke-width="0.55"/>
<line x1="69.50" y1="364.90" x2="69.50" y2="366.40" stroke="#000" stroke-width="0.55"/>
<line x1="74.50" y1="364.90" x2="74.50" y2="366.40" stroke="#000" stroke-width="0.55"/>
<line x1="79.50" y1="364.90" x2="79.50" y2="366.40" stroke="#000" stroke-width="0.55"/>
<line x1="83.50" y1="364.90" x2="83.50" y2="366.40" stroke="#000" stroke-width="0.55"/>
<line x1="110.50" y1="364.90" x2="110.50" y2="366.40" stroke="#000" stroke-width="0.55"/>
<line x1="123.50" y1="364.90" x2="123.50" y2="366.40" stroke="#000" stroke-width="0.55"/>
<line x1="133.50" y1="364.90" x2="133.50" y2="366.40" stroke="#000" stroke-width="0.55"/>
<line x1="141.50" y1="364.90" x2="141.50" y2="366.40" stroke="#000" stroke-width="0.55"/>
<line x1="147.50" y1="364.90" x2="147.50" y2="366.40" stroke="#000" stroke-width="0.55"/>
<line x1="152.50" y1="364.90" x2="152.50" y2="366.40" stroke="#000" stroke-width="0.55"/>
<line x1="156.50" y1="364.90" x2="156.50" y2="366.40" stroke="#000" stroke-width="0.55"/>
<line x1="160.50" y1="364.90" x2="160.50" y2="366.40" stroke="#000" stroke-width="0.55"/>
<polyline points="33.00,301.50 36.00,300.50 39.90,300.50 43.40,300.30 45.90,299.40 49.40,299.20 51.40,297.90 53.30,296.30 55.80,296.30 58.30,297.30 60.30,296.20 61.80,292.80 64.00,289.30 66.20,291.80 68.90,296.20 71.70,295.20 73.20,296.90 74.90,299.50 76.50,296.20 77.90,293.30 79.40,295.50 81.10,295.50 82.60,294.90 84.10,292.00 86.10,291.60 87.40,289.30 88.80,286.00 90.60,287.30 92.40,294.70 94.00,291.30 96.00,289.30 98.30,292.00 99.40,289.70 100.60,285.40 102.10,289.90 103.70,291.70 105.10,294.60 106.30,287.60 107.40,279.90 108.90,279.30 109.80,280.20 111.00,284.00 111.60,282.39 112.20,279.30 112.75,275.82 113.30,274.60 113.90,276.81 114.50,276.90 115.10,273.11 115.70,270.40 116.20,271.26 116.70,269.60 117.10,272.01 117.50,276.90 118.10,274.33 118.70,269.90 119.55,266.68 120.40,266.10 121.00,268.56 121.60,269.30 122.20,269.42 122.80,272.20 123.70,280.87 124.60,288.20 125.15,283.75 125.70,281.10 126.30,283.14 126.90,281.70 127.50,274.23 128.10,269.90 128.50,264.95 128.90,258.60 129.50,258.33 130.10,261.60 130.85,263.39 131.60,262.80 132.50,268.48 133.40,276.90 134.30,272.11 135.20,265.10 135.80,267.20 136.40,273.40 136.95,272.76 137.50,268.70 138.10,268.67 138.70,271.00 139.30,266.29 139.90,259.80 140.65,256.20 141.40,255.90 142.00,256.98 142.60,256.30 143.00,250.57 143.40,249.20 144.00,255.94 144.60,260.40 145.20,257.73 145.80,256.90 146.40,263.37 147.00,264.50 147.40,256.58 147.80,252.20 148.60,252.39 149.40,249.80 150.15,244.51 150.90,243.90 151.70,241.09 152.50,235.90 153.00,238.18 153.50,246.20 154.20,244.19 154.90,239.80 155.65,237.90 156.40,241.50 157.00,241.70 157.60,237.40 158.00,235.48 158.40,236.20 158.90,244.14 159.40,246.20 160.00,243.62 160.60,244.50 161.15,248.84 161.70,248.60 162.30,247.58 162.90,253.30 163.60,259.85 164.30,261.60" fill="none" stroke="#000" stroke-width="0.55" stroke-linejoin="round"/>
<rect x="32.50" y="207.55" width="132.0" height="157.35" fill="none" stroke="#000" stroke-width="0.62"/>
<text x="46.30" y="348.95" font-size="10.5" textLength="42.47" lengthAdjust="spacingAndGlyphs">KMM009</text>
<text x="98.50" y="386.40" text-anchor="middle" font-size="7.3" class="b" textLength="54" lengthAdjust="spacingAndGlyphs">Frequency (Hz)</text>
<text transform="translate(6.00,286.35) rotate(-90)" text-anchor="middle" font-size="7.3" class="b" textLength="86" lengthAdjust="spacingAndGlyphs">Site amplification factor</text>
<line x1="201.50" y1="364.90" x2="204.00" y2="364.90" stroke="#000" stroke-width="0.62"/>
<text x="198.34" y="364.90" text-anchor="end" font-size="5.1" class="t" textLength="6.30" lengthAdjust="spacingAndGlyphs">−1</text>
<text x="191.84" y="367.95" text-anchor="end" font-size="8.45" class="t" textLength="8.3" lengthAdjust="spacingAndGlyphs">10</text>
<line x1="202.50" y1="349.50" x2="204.00" y2="349.50" stroke="#000" stroke-width="0.55"/>
<line x1="202.50" y1="339.50" x2="204.00" y2="339.50" stroke="#000" stroke-width="0.55"/>
<line x1="202.50" y1="333.50" x2="204.00" y2="333.50" stroke="#000" stroke-width="0.55"/>
<line x1="202.50" y1="328.50" x2="204.00" y2="328.50" stroke="#000" stroke-width="0.55"/>
<line x1="202.50" y1="324.50" x2="204.00" y2="324.50" stroke="#000" stroke-width="0.55"/>
<line x1="202.50" y1="320.50" x2="204.00" y2="320.50" stroke="#000" stroke-width="0.55"/>
<line x1="202.50" y1="317.50" x2="204.00" y2="317.50" stroke="#000" stroke-width="0.55"/>
<line x1="202.50" y1="314.50" x2="204.00" y2="314.50" stroke="#000" stroke-width="0.55"/>
<line x1="201.50" y1="312.50" x2="204.00" y2="312.50" stroke="#000" stroke-width="0.62"/>
<text x="198.34" y="312.57" text-anchor="end" font-size="5.1" class="t">0</text>
<text x="195.30" y="315.62" text-anchor="end" font-size="8.45" class="t" textLength="8.3" lengthAdjust="spacingAndGlyphs">10</text>
<line x1="202.50" y1="296.50" x2="204.00" y2="296.50" stroke="#000" stroke-width="0.55"/>
<line x1="202.50" y1="287.50" x2="204.00" y2="287.50" stroke="#000" stroke-width="0.55"/>
<line x1="202.50" y1="281.50" x2="204.00" y2="281.50" stroke="#000" stroke-width="0.55"/>
<line x1="202.50" y1="275.50" x2="204.00" y2="275.50" stroke="#000" stroke-width="0.55"/>
<line x1="202.50" y1="271.50" x2="204.00" y2="271.50" stroke="#000" stroke-width="0.55"/>
<line x1="202.50" y1="268.50" x2="204.00" y2="268.50" stroke="#000" stroke-width="0.55"/>
<line x1="202.50" y1="265.50" x2="204.00" y2="265.50" stroke="#000" stroke-width="0.55"/>
<line x1="202.50" y1="262.50" x2="204.00" y2="262.50" stroke="#000" stroke-width="0.55"/>
<line x1="201.50" y1="260.50" x2="204.00" y2="260.50" stroke="#000" stroke-width="0.62"/>
<text x="198.34" y="260.23" text-anchor="end" font-size="5.1" class="t">1</text>
<text x="195.30" y="263.28" text-anchor="end" font-size="8.45" class="t" textLength="8.3" lengthAdjust="spacingAndGlyphs">10</text>
<line x1="202.50" y1="244.50" x2="204.00" y2="244.50" stroke="#000" stroke-width="0.55"/>
<line x1="202.50" y1="235.50" x2="204.00" y2="235.50" stroke="#000" stroke-width="0.55"/>
<line x1="202.50" y1="228.50" x2="204.00" y2="228.50" stroke="#000" stroke-width="0.55"/>
<line x1="202.50" y1="223.50" x2="204.00" y2="223.50" stroke="#000" stroke-width="0.55"/>
<line x1="202.50" y1="219.50" x2="204.00" y2="219.50" stroke="#000" stroke-width="0.55"/>
<line x1="202.50" y1="215.50" x2="204.00" y2="215.50" stroke="#000" stroke-width="0.55"/>
<line x1="202.50" y1="212.50" x2="204.00" y2="212.50" stroke="#000" stroke-width="0.55"/>
<line x1="202.50" y1="210.50" x2="204.00" y2="210.50" stroke="#000" stroke-width="0.55"/>
<line x1="201.50" y1="207.55" x2="204.00" y2="207.55" stroke="#000" stroke-width="0.62"/>
<text x="198.34" y="207.90" text-anchor="end" font-size="5.1" class="t">2</text>
<text x="195.30" y="210.95" text-anchor="end" font-size="8.45" class="t" textLength="8.3" lengthAdjust="spacingAndGlyphs">10</text>
<line x1="258.50" y1="364.90" x2="258.50" y2="367.40" stroke="#000" stroke-width="0.62"/>
<text x="252.56" y="376.15" font-size="8.45" class="t" textLength="8.3" lengthAdjust="spacingAndGlyphs">10</text>
<text x="261.06" y="372.95" font-size="5.1" class="t">0</text>
<line x1="336.00" y1="364.90" x2="336.00" y2="367.40" stroke="#000" stroke-width="0.62"/>
<text x="330.25" y="376.15" font-size="8.45" class="t" textLength="8.3" lengthAdjust="spacingAndGlyphs">10</text>
<text x="338.75" y="372.95" font-size="5.1" class="t">1</text>
<line x1="204.00" y1="364.90" x2="204.00" y2="366.40" stroke="#000" stroke-width="0.55"/>
<line x1="217.50" y1="364.90" x2="217.50" y2="366.40" stroke="#000" stroke-width="0.55"/>
<line x1="227.50" y1="364.90" x2="227.50" y2="366.40" stroke="#000" stroke-width="0.55"/>
<line x1="234.50" y1="364.90" x2="234.50" y2="366.40" stroke="#000" stroke-width="0.55"/>
<line x1="241.50" y1="364.90" x2="241.50" y2="366.40" stroke="#000" stroke-width="0.55"/>
<line x1="246.50" y1="364.90" x2="246.50" y2="366.40" stroke="#000" stroke-width="0.55"/>
<line x1="250.50" y1="364.90" x2="250.50" y2="366.40" stroke="#000" stroke-width="0.55"/>
<line x1="254.50" y1="364.90" x2="254.50" y2="366.40" stroke="#000" stroke-width="0.55"/>
<line x1="281.50" y1="364.90" x2="281.50" y2="366.40" stroke="#000" stroke-width="0.55"/>
<line x1="295.50" y1="364.90" x2="295.50" y2="366.40" stroke="#000" stroke-width="0.55"/>
<line x1="305.50" y1="364.90" x2="305.50" y2="366.40" stroke="#000" stroke-width="0.55"/>
<line x1="312.50" y1="364.90" x2="312.50" y2="366.40" stroke="#000" stroke-width="0.55"/>
<line x1="318.50" y1="364.90" x2="318.50" y2="366.40" stroke="#000" stroke-width="0.55"/>
<line x1="323.50" y1="364.90" x2="323.50" y2="366.40" stroke="#000" stroke-width="0.55"/>
<line x1="328.50" y1="364.90" x2="328.50" y2="366.40" stroke="#000" stroke-width="0.55"/>
<line x1="332.50" y1="364.90" x2="332.50" y2="366.40" stroke="#000" stroke-width="0.55"/>
<polyline points="204.30,290.20 209.10,287.20 213.80,284.50 216.50,285.40 219.90,287.20 224.60,283.10 228.00,282.30 230.70,280.70 232.70,282.70 234.70,279.40 237.40,276.00 240.50,279.10 242.80,277.70 245.50,277.30 247.50,275.30 249.90,274.00 252.20,271.50 254.50,270.20 255.60,273.30 257.00,267.90 258.60,265.90 259.70,259.10 261.30,255.80 262.60,255.30 264.40,258.40 265.70,250.40 267.50,241.60 268.40,234.80 269.40,225.40 270.30,226.70 271.50,236.90 272.70,230.50 274.10,235.20 275.70,236.90 277.40,247.00 279.50,239.40 281.10,248.70 283.30,253.70 284.17,259.36 285.03,262.44 285.90,268.10 286.73,263.08 287.57,256.13 288.40,251.20 289.25,257.23 290.10,260.50 290.95,259.50 291.80,259.60 292.53,263.68 293.27,263.86 294.00,268.10 295.00,272.10 296.00,274.00 296.65,274.94 297.30,278.20 298.15,287.33 299.00,293.40 300.00,287.23 301.00,284.90 301.70,290.54 302.40,292.50 303.40,285.36 304.40,282.40 304.85,288.74 305.30,292.50 306.10,285.02 306.90,280.70 307.75,278.89 308.60,274.80 309.20,274.18 309.80,277.30 310.65,274.39 311.50,269.20 312.35,271.06 313.20,275.60 313.85,281.30 314.50,284.10 315.35,288.61 316.20,298.40 317.20,300.58 318.20,297.90 318.65,294.11 319.10,292.50 319.60,299.46 320.10,301.80 321.10,294.27 322.10,291.70 322.95,295.53 323.80,295.90 324.65,298.87 325.50,304.30 326.35,310.34 327.20,311.10 328.05,305.34 328.90,301.80 329.45,300.54 330.00,295.90 330.70,298.81 331.40,307.70 332.25,301.67 333.10,289.10 333.95,291.93 334.80,297.60 335.30,297.51 335.80,292.50" fill="none" stroke="#000" stroke-width="0.55" stroke-linejoin="round"/>
<rect x="204.00" y="207.55" width="132.0" height="157.35" fill="none" stroke="#000" stroke-width="0.62"/>
<text x="217.80" y="348.95" font-size="10.5" textLength="42.47" lengthAdjust="spacingAndGlyphs">KMM010</text>
<text x="270.00" y="386.40" text-anchor="middle" font-size="7.3" class="b" textLength="54" lengthAdjust="spacingAndGlyphs">Frequency (Hz)</text>
<text transform="translate(177.50,286.35) rotate(-90)" text-anchor="middle" font-size="7.3" class="b" textLength="86" lengthAdjust="spacingAndGlyphs">Site amplification factor</text>
<line x1="373.00" y1="364.90" x2="375.50" y2="364.90" stroke="#000" stroke-width="0.62"/>
<text x="369.84" y="364.90" text-anchor="end" font-size="5.1" class="t" textLength="6.30" lengthAdjust="spacingAndGlyphs">−1</text>
<text x="363.34" y="367.95" text-anchor="end" font-size="8.45" class="t" textLength="8.3" lengthAdjust="spacingAndGlyphs">10</text>
<line x1="374.00" y1="349.50" x2="375.50" y2="349.50" stroke="#000" stroke-width="0.55"/>
<line x1="374.00" y1="339.50" x2="375.50" y2="339.50" stroke="#000" stroke-width="0.55"/>
<line x1="374.00" y1="333.50" x2="375.50" y2="333.50" stroke="#000" stroke-width="0.55"/>
<line x1="374.00" y1="328.50" x2="375.50" y2="328.50" stroke="#000" stroke-width="0.55"/>
<line x1="374.00" y1="324.50" x2="375.50" y2="324.50" stroke="#000" stroke-width="0.55"/>
<line x1="374.00" y1="320.50" x2="375.50" y2="320.50" stroke="#000" stroke-width="0.55"/>
<line x1="374.00" y1="317.50" x2="375.50" y2="317.50" stroke="#000" stroke-width="0.55"/>
<line x1="374.00" y1="314.50" x2="375.50" y2="314.50" stroke="#000" stroke-width="0.55"/>
<line x1="373.00" y1="312.50" x2="375.50" y2="312.50" stroke="#000" stroke-width="0.62"/>
<text x="369.84" y="312.57" text-anchor="end" font-size="5.1" class="t">0</text>
<text x="366.80" y="315.62" text-anchor="end" font-size="8.45" class="t" textLength="8.3" lengthAdjust="spacingAndGlyphs">10</text>
<line x1="374.00" y1="296.50" x2="375.50" y2="296.50" stroke="#000" stroke-width="0.55"/>
<line x1="374.00" y1="287.50" x2="375.50" y2="287.50" stroke="#000" stroke-width="0.55"/>
<line x1="374.00" y1="281.50" x2="375.50" y2="281.50" stroke="#000" stroke-width="0.55"/>
<line x1="374.00" y1="275.50" x2="375.50" y2="275.50" stroke="#000" stroke-width="0.55"/>
<line x1="374.00" y1="271.50" x2="375.50" y2="271.50" stroke="#000" stroke-width="0.55"/>
<line x1="374.00" y1="268.50" x2="375.50" y2="268.50" stroke="#000" stroke-width="0.55"/>
<line x1="374.00" y1="265.50" x2="375.50" y2="265.50" stroke="#000" stroke-width="0.55"/>
<line x1="374.00" y1="262.50" x2="375.50" y2="262.50" stroke="#000" stroke-width="0.55"/>
<line x1="373.00" y1="260.50" x2="375.50" y2="260.50" stroke="#000" stroke-width="0.62"/>
<text x="369.84" y="260.23" text-anchor="end" font-size="5.1" class="t">1</text>
<text x="366.80" y="263.28" text-anchor="end" font-size="8.45" class="t" textLength="8.3" lengthAdjust="spacingAndGlyphs">10</text>
<line x1="374.00" y1="244.50" x2="375.50" y2="244.50" stroke="#000" stroke-width="0.55"/>
<line x1="374.00" y1="235.50" x2="375.50" y2="235.50" stroke="#000" stroke-width="0.55"/>
<line x1="374.00" y1="228.50" x2="375.50" y2="228.50" stroke="#000" stroke-width="0.55"/>
<line x1="374.00" y1="223.50" x2="375.50" y2="223.50" stroke="#000" stroke-width="0.55"/>
<line x1="374.00" y1="219.50" x2="375.50" y2="219.50" stroke="#000" stroke-width="0.55"/>
<line x1="374.00" y1="215.50" x2="375.50" y2="215.50" stroke="#000" stroke-width="0.55"/>
<line x1="374.00" y1="212.50" x2="375.50" y2="212.50" stroke="#000" stroke-width="0.55"/>
<line x1="374.00" y1="210.50" x2="375.50" y2="210.50" stroke="#000" stroke-width="0.55"/>
<line x1="373.00" y1="207.55" x2="375.50" y2="207.55" stroke="#000" stroke-width="0.62"/>
<text x="369.84" y="207.90" text-anchor="end" font-size="5.1" class="t">2</text>
<text x="366.80" y="210.95" text-anchor="end" font-size="8.45" class="t" textLength="8.3" lengthAdjust="spacingAndGlyphs">10</text>
<line x1="429.50" y1="364.90" x2="429.50" y2="367.40" stroke="#000" stroke-width="0.62"/>
<text x="424.06" y="376.15" font-size="8.45" class="t" textLength="8.3" lengthAdjust="spacingAndGlyphs">10</text>
<text x="432.56" y="372.95" font-size="5.1" class="t">0</text>
<line x1="507.50" y1="364.90" x2="507.50" y2="367.40" stroke="#000" stroke-width="0.62"/>
<text x="501.75" y="376.15" font-size="8.45" class="t" textLength="8.3" lengthAdjust="spacingAndGlyphs">10</text>
<text x="510.25" y="372.95" font-size="5.1" class="t">1</text>
<line x1="375.50" y1="364.90" x2="375.50" y2="366.40" stroke="#000" stroke-width="0.55"/>
<line x1="389.50" y1="364.90" x2="389.50" y2="366.40" stroke="#000" stroke-width="0.55"/>
<line x1="398.50" y1="364.90" x2="398.50" y2="366.40" stroke="#000" stroke-width="0.55"/>
<line x1="406.50" y1="364.90" x2="406.50" y2="366.40" stroke="#000" stroke-width="0.55"/>
<line x1="412.50" y1="364.90" x2="412.50" y2="366.40" stroke="#000" stroke-width="0.55"/>
<line x1="417.50" y1="364.90" x2="417.50" y2="366.40" stroke="#000" stroke-width="0.55"/>
<line x1="422.50" y1="364.90" x2="422.50" y2="366.40" stroke="#000" stroke-width="0.55"/>
<line x1="426.50" y1="364.90" x2="426.50" y2="366.40" stroke="#000" stroke-width="0.55"/>
<line x1="453.50" y1="364.90" x2="453.50" y2="366.40" stroke="#000" stroke-width="0.55"/>
<line x1="466.50" y1="364.90" x2="466.50" y2="366.40" stroke="#000" stroke-width="0.55"/>
<line x1="476.50" y1="364.90" x2="476.50" y2="366.40" stroke="#000" stroke-width="0.55"/>
<line x1="484.50" y1="364.90" x2="484.50" y2="366.40" stroke="#000" stroke-width="0.55"/>
<line x1="490.50" y1="364.90" x2="490.50" y2="366.40" stroke="#000" stroke-width="0.55"/>
<line x1="495.50" y1="364.90" x2="495.50" y2="366.40" stroke="#000" stroke-width="0.55"/>
<line x1="499.50" y1="364.90" x2="499.50" y2="366.40" stroke="#000" stroke-width="0.55"/>
<line x1="503.50" y1="364.90" x2="503.50" y2="366.40" stroke="#000" stroke-width="0.55"/>
<polyline points="376.00,293.10 379.60,293.10 382.60,292.10 385.10,289.80 388.20,287.80 392.20,287.10 395.20,286.30 400.30,286.00 404.30,284.50 408.40,284.30 410.90,286.30 413.50,288.40 416.70,289.40 419.50,286.30 422.60,282.50 425.10,280.30 427.10,280.30 429.60,276.90 432.20,272.90 435.20,274.40 438.70,277.90 441.30,275.40 442.60,274.40 444.40,268.30 446.40,265.60 447.70,266.00 449.10,266.30 450.40,259.50 451.80,254.10 453.10,255.50 454.20,257.90 454.70,255.66 455.20,252.10 456.05,251.30 456.90,252.50 457.60,252.65 458.30,251.70 459.10,247.38 459.90,245.40 460.55,245.70 461.20,244.40 461.90,243.52 462.60,245.61 463.30,245.40 463.95,240.44 464.60,237.30 465.30,237.79 466.00,235.20 466.65,230.90 467.30,229.80 467.85,229.00 468.40,225.10 468.85,226.44 469.30,229.80 470.00,230.06 470.70,228.50 471.35,229.24 472.00,231.90 472.70,237.57 473.40,241.30 473.75,239.68 474.10,240.60 474.75,244.96 475.40,247.40 475.85,250.79 476.30,256.10 476.85,256.85 477.40,253.40 478.10,254.58 478.80,260.20 479.45,263.04 480.10,262.90 480.80,260.89 481.50,261.50 481.80,265.47 482.10,264.90 482.80,257.12 483.50,253.40 484.15,260.41 484.80,264.60 485.50,262.36 486.20,263.60 486.85,271.24 487.50,273.70 488.20,271.86 488.90,275.40 489.55,280.86 490.20,283.10 490.90,278.36 491.60,277.30 492.25,280.75 492.90,279.80 493.60,279.48 494.30,281.80 494.85,285.48 495.40,283.80 496.00,278.44 496.60,279.10 497.25,280.77 497.90,277.30 498.45,273.62 499.00,275.00 499.55,275.12 500.10,269.00 500.55,270.45 501.00,276.40 501.50,273.68 502.00,266.90 502.55,270.16 503.10,276.80 503.60,274.43 504.10,266.00 504.80,265.70 505.50,269.60 506.15,275.87 506.80,276.40" fill="none" stroke="#000" stroke-width="0.55" stroke-linejoin="round"/>
<rect x="375.50" y="207.55" width="132.0" height="157.35" fill="none" stroke="#000" stroke-width="0.62"/>
<text x="389.30" y="348.95" font-size="10.5" textLength="42.47" lengthAdjust="spacingAndGlyphs">KMM011</text>
<text x="441.50" y="386.40" text-anchor="middle" font-size="7.3" class="b" textLength="54" lengthAdjust="spacingAndGlyphs">Frequency (Hz)</text>
<text transform="translate(349.00,286.35) rotate(-90)" text-anchor="middle" font-size="7.3" class="b" textLength="86" lengthAdjust="spacingAndGlyphs">Site amplification factor</text>
<line x1="544.50" y1="364.90" x2="547.00" y2="364.90" stroke="#000" stroke-width="0.62"/>
<text x="541.34" y="364.90" text-anchor="end" font-size="5.1" class="t" textLength="6.30" lengthAdjust="spacingAndGlyphs">−1</text>
<text x="534.84" y="367.95" text-anchor="end" font-size="8.45" class="t" textLength="8.3" lengthAdjust="spacingAndGlyphs">10</text>
<line x1="545.50" y1="349.50" x2="547.00" y2="349.50" stroke="#000" stroke-width="0.55"/>
<line x1="545.50" y1="339.50" x2="547.00" y2="339.50" stroke="#000" stroke-width="0.55"/>
<line x1="545.50" y1="333.50" x2="547.00" y2="333.50" stroke="#000" stroke-width="0.55"/>
<line x1="545.50" y1="328.50" x2="547.00" y2="328.50" stroke="#000" stroke-width="0.55"/>
<line x1="545.50" y1="324.50" x2="547.00" y2="324.50" stroke="#000" stroke-width="0.55"/>
<line x1="545.50" y1="320.50" x2="547.00" y2="320.50" stroke="#000" stroke-width="0.55"/>
<line x1="545.50" y1="317.50" x2="547.00" y2="317.50" stroke="#000" stroke-width="0.55"/>
<line x1="545.50" y1="314.50" x2="547.00" y2="314.50" stroke="#000" stroke-width="0.55"/>
<line x1="544.50" y1="312.50" x2="547.00" y2="312.50" stroke="#000" stroke-width="0.62"/>
<text x="541.34" y="312.57" text-anchor="end" font-size="5.1" class="t">0</text>
<text x="538.30" y="315.62" text-anchor="end" font-size="8.45" class="t" textLength="8.3" lengthAdjust="spacingAndGlyphs">10</text>
<line x1="545.50" y1="296.50" x2="547.00" y2="296.50" stroke="#000" stroke-width="0.55"/>
<line x1="545.50" y1="287.50" x2="547.00" y2="287.50" stroke="#000" stroke-width="0.55"/>
<line x1="545.50" y1="281.50" x2="547.00" y2="281.50" stroke="#000" stroke-width="0.55"/>
<line x1="545.50" y1="275.50" x2="547.00" y2="275.50" stroke="#000" stroke-width="0.55"/>
<line x1="545.50" y1="271.50" x2="547.00" y2="271.50" stroke="#000" stroke-width="0.55"/>
<line x1="545.50" y1="268.50" x2="547.00" y2="268.50" stroke="#000" stroke-width="0.55"/>
<line x1="545.50" y1="265.50" x2="547.00" y2="265.50" stroke="#000" stroke-width="0.55"/>
<line x1="545.50" y1="262.50" x2="547.00" y2="262.50" stroke="#000" stroke-width="0.55"/>
<line x1="544.50" y1="260.50" x2="547.00" y2="260.50" stroke="#000" stroke-width="0.62"/>
<text x="541.34" y="260.23" text-anchor="end" font-size="5.1" class="t">1</text>
<text x="538.30" y="263.28" text-anchor="end" font-size="8.45" class="t" textLength="8.3" lengthAdjust="spacingAndGlyphs">10</text>
<line x1="545.50" y1="244.50" x2="547.00" y2="244.50" stroke="#000" stroke-width="0.55"/>
<line x1="545.50" y1="235.50" x2="547.00" y2="235.50" stroke="#000" stroke-width="0.55"/>
<line x1="545.50" y1="228.50" x2="547.00" y2="228.50" stroke="#000" stroke-width="0.55"/>
<line x1="545.50" y1="223.50" x2="547.00" y2="223.50" stroke="#000" stroke-width="0.55"/>
<line x1="545.50" y1="219.50" x2="547.00" y2="219.50" stroke="#000" stroke-width="0.55"/>
<line x1="545.50" y1="215.50" x2="547.00" y2="215.50" stroke="#000" stroke-width="0.55"/>
<line x1="545.50" y1="212.50" x2="547.00" y2="212.50" stroke="#000" stroke-width="0.55"/>
<line x1="545.50" y1="210.50" x2="547.00" y2="210.50" stroke="#000" stroke-width="0.55"/>
<line x1="544.50" y1="207.55" x2="547.00" y2="207.55" stroke="#000" stroke-width="0.62"/>
<text x="541.34" y="207.90" text-anchor="end" font-size="5.1" class="t">2</text>
<text x="538.30" y="210.95" text-anchor="end" font-size="8.45" class="t" textLength="8.3" lengthAdjust="spacingAndGlyphs">10</text>
<line x1="601.50" y1="364.90" x2="601.50" y2="367.40" stroke="#000" stroke-width="0.62"/>
<text x="595.56" y="376.15" font-size="8.45" class="t" textLength="8.3" lengthAdjust="spacingAndGlyphs">10</text>
<text x="604.06" y="372.95" font-size="5.1" class="t">0</text>
<line x1="679.00" y1="364.90" x2="679.00" y2="367.40" stroke="#000" stroke-width="0.62"/>
<text x="673.25" y="376.15" font-size="8.45" class="t" textLength="8.3" lengthAdjust="spacingAndGlyphs">10</text>
<text x="681.75" y="372.95" font-size="5.1" class="t">1</text>
<line x1="547.00" y1="364.90" x2="547.00" y2="366.40" stroke="#000" stroke-width="0.55"/>
<line x1="560.50" y1="364.90" x2="560.50" y2="366.40" stroke="#000" stroke-width="0.55"/>
<line x1="570.50" y1="364.90" x2="570.50" y2="366.40" stroke="#000" stroke-width="0.55"/>
<line x1="577.50" y1="364.90" x2="577.50" y2="366.40" stroke="#000" stroke-width="0.55"/>
<line x1="584.50" y1="364.90" x2="584.50" y2="366.40" stroke="#000" stroke-width="0.55"/>
<line x1="589.50" y1="364.90" x2="589.50" y2="366.40" stroke="#000" stroke-width="0.55"/>
<line x1="593.50" y1="364.90" x2="593.50" y2="366.40" stroke="#000" stroke-width="0.55"/>
<line x1="597.50" y1="364.90" x2="597.50" y2="366.40" stroke="#000" stroke-width="0.55"/>
<line x1="624.50" y1="364.90" x2="624.50" y2="366.40" stroke="#000" stroke-width="0.55"/>
<line x1="638.50" y1="364.90" x2="638.50" y2="366.40" stroke="#000" stroke-width="0.55"/>
<line x1="648.50" y1="364.90" x2="648.50" y2="366.40" stroke="#000" stroke-width="0.55"/>
<line x1="655.50" y1="364.90" x2="655.50" y2="366.40" stroke="#000" stroke-width="0.55"/>
<line x1="661.50" y1="364.90" x2="661.50" y2="366.40" stroke="#000" stroke-width="0.55"/>
<line x1="666.50" y1="364.90" x2="666.50" y2="366.40" stroke="#000" stroke-width="0.55"/>
<line x1="671.50" y1="364.90" x2="671.50" y2="366.40" stroke="#000" stroke-width="0.55"/>
<line x1="675.50" y1="364.90" x2="675.50" y2="366.40" stroke="#000" stroke-width="0.55"/>
<polyline points="547.40,289.00 550.70,286.40 554.90,283.40 557.20,283.40 560.20,285.50 564.90,289.30 567.20,286.40 569.60,287.60 572.00,287.30 574.90,283.10 577.60,278.20 580.20,280.50 583.80,279.30 585.50,278.40 587.90,273.70 590.90,270.70 594.20,268.00 596.20,269.20 597.90,271.30 599.70,263.60 601.50,261.30 602.90,258.90 603.80,254.80 605.00,251.00 606.20,251.80 607.40,255.70 608.80,253.40 609.70,254.20 610.70,251.80 611.60,253.60 613.40,250.00 614.60,243.90 615.50,238.90 616.70,248.00 617.90,250.70 618.80,252.70 619.70,251.60 620.50,255.90 621.40,251.60 622.60,247.20 623.80,249.20 625.00,249.80 625.60,251.39 626.20,250.70 626.75,250.76 627.30,253.30 628.05,256.84 628.80,258.60 629.55,256.96 630.30,256.30 630.90,258.41 631.50,258.60 631.90,257.55 632.30,257.80 632.90,260.61 633.50,262.20 633.95,258.72 634.40,256.90 635.00,254.89 635.60,250.00 636.10,250.72 636.60,254.50 637.00,262.61 637.40,267.50 638.00,263.56 638.60,262.80 639.00,266.54 639.40,267.50 639.85,263.73 640.30,263.40 640.80,267.22 641.30,268.40 641.90,263.74 642.50,262.80 642.90,262.78 643.30,259.20 643.90,260.15 644.50,264.50 644.90,266.37 645.30,266.30 645.90,262.86 646.50,261.60 647.10,270.06 647.70,275.20 648.25,269.82 648.80,266.30 649.30,267.17 649.80,264.00 650.40,263.64 651.00,266.90 651.55,265.09 652.10,261.60 652.60,261.86 653.10,264.00 653.50,263.11 653.90,259.20 654.30,257.02 654.70,256.90 655.20,264.39 655.70,266.90 656.30,261.64 656.90,259.20 657.45,258.66 658.00,253.30 658.60,257.78 659.20,267.50 659.80,265.00 660.40,257.50 660.85,256.33 661.30,260.40 661.75,260.06 662.20,256.30 662.60,257.30 663.00,262.80 663.45,262.27 663.90,259.80 664.50,256.40 665.10,256.90 665.60,261.37 666.10,262.80 666.50,263.21 666.90,269.30 667.50,271.79 668.10,271.00 668.70,271.29 669.30,275.20 669.85,274.99 670.40,268.70 671.00,267.90 671.60,271.00 672.20,268.26 672.80,262.50 673.20,265.40 673.60,274.60 674.10,282.32 674.60,284.00 675.05,276.92 675.50,273.40 675.90,275.09 676.30,271.00 676.75,264.62 677.20,263.40 677.55,271.33 677.90,274.60 678.30,277.12 678.70,282.80" fill="none" stroke="#000" stroke-width="0.55" stroke-linejoin="round"/>
<rect x="547.00" y="207.55" width="132.0" height="157.35" fill="none" stroke="#000" stroke-width="0.62"/>
<text x="560.80" y="348.95" font-size="10.5" textLength="43.62" lengthAdjust="spacingAndGlyphs">KMMH03</text>
<text x="613.00" y="386.40" text-anchor="middle" font-size="7.3" class="b" textLength="54" lengthAdjust="spacingAndGlyphs">Frequency (Hz)</text>
<text transform="translate(520.50,286.35) rotate(-90)" text-anchor="middle" font-size="7.3" class="b" textLength="86" lengthAdjust="spacingAndGlyphs">Site amplification factor</text>
<line x1="30.00" y1="569.50" x2="32.50" y2="569.50" stroke="#000" stroke-width="0.62"/>
<text x="26.84" y="569.55" text-anchor="end" font-size="5.1" class="t" textLength="6.30" lengthAdjust="spacingAndGlyphs">−1</text>
<text x="20.34" y="572.60" text-anchor="end" font-size="8.45" class="t" textLength="8.3" lengthAdjust="spacingAndGlyphs">10</text>
<line x1="31.00" y1="553.50" x2="32.50" y2="553.50" stroke="#000" stroke-width="0.55"/>
<line x1="31.00" y1="544.50" x2="32.50" y2="544.50" stroke="#000" stroke-width="0.55"/>
<line x1="31.00" y1="537.50" x2="32.50" y2="537.50" stroke="#000" stroke-width="0.55"/>
<line x1="31.00" y1="532.50" x2="32.50" y2="532.50" stroke="#000" stroke-width="0.55"/>
<line x1="31.00" y1="528.50" x2="32.50" y2="528.50" stroke="#000" stroke-width="0.55"/>
<line x1="31.00" y1="525.50" x2="32.50" y2="525.50" stroke="#000" stroke-width="0.55"/>
<line x1="31.00" y1="522.50" x2="32.50" y2="522.50" stroke="#000" stroke-width="0.55"/>
<line x1="31.00" y1="519.50" x2="32.50" y2="519.50" stroke="#000" stroke-width="0.55"/>
<line x1="30.00" y1="517.50" x2="32.50" y2="517.50" stroke="#000" stroke-width="0.62"/>
<text x="26.84" y="517.22" text-anchor="end" font-size="5.1" class="t">0</text>
<text x="23.80" y="520.27" text-anchor="end" font-size="8.45" class="t" textLength="8.3" lengthAdjust="spacingAndGlyphs">10</text>
<line x1="31.00" y1="501.50" x2="32.50" y2="501.50" stroke="#000" stroke-width="0.55"/>
<line x1="31.00" y1="492.50" x2="32.50" y2="492.50" stroke="#000" stroke-width="0.55"/>
<line x1="31.00" y1="485.50" x2="32.50" y2="485.50" stroke="#000" stroke-width="0.55"/>
<line x1="31.00" y1="480.50" x2="32.50" y2="480.50" stroke="#000" stroke-width="0.55"/>
<line x1="31.00" y1="476.50" x2="32.50" y2="476.50" stroke="#000" stroke-width="0.55"/>
<line x1="31.00" y1="472.50" x2="32.50" y2="472.50" stroke="#000" stroke-width="0.55"/>
<line x1="31.00" y1="469.50" x2="32.50" y2="469.50" stroke="#000" stroke-width="0.55"/>
<line x1="31.00" y1="467.50" x2="32.50" y2="467.50" stroke="#000" stroke-width="0.55"/>
<line x1="30.00" y1="464.50" x2="32.50" y2="464.50" stroke="#000" stroke-width="0.62"/>
<text x="26.84" y="464.88" text-anchor="end" font-size="5.1" class="t">1</text>
<text x="23.80" y="467.93" text-anchor="end" font-size="8.45" class="t" textLength="8.3" lengthAdjust="spacingAndGlyphs">10</text>
<line x1="31.00" y1="449.50" x2="32.50" y2="449.50" stroke="#000" stroke-width="0.55"/>
<line x1="31.00" y1="439.50" x2="32.50" y2="439.50" stroke="#000" stroke-width="0.55"/>
<line x1="31.00" y1="433.50" x2="32.50" y2="433.50" stroke="#000" stroke-width="0.55"/>
<line x1="31.00" y1="428.50" x2="32.50" y2="428.50" stroke="#000" stroke-width="0.55"/>
<line x1="31.00" y1="424.50" x2="32.50" y2="424.50" stroke="#000" stroke-width="0.55"/>
<line x1="31.00" y1="420.50" x2="32.50" y2="420.50" stroke="#000" stroke-width="0.55"/>
<line x1="31.00" y1="417.50" x2="32.50" y2="417.50" stroke="#000" stroke-width="0.55"/>
<line x1="31.00" y1="414.50" x2="32.50" y2="414.50" stroke="#000" stroke-width="0.55"/>
<line x1="30.00" y1="412.50" x2="32.50" y2="412.50" stroke="#000" stroke-width="0.62"/>
<text x="26.84" y="412.55" text-anchor="end" font-size="5.1" class="t">2</text>
<text x="23.80" y="415.60" text-anchor="end" font-size="8.45" class="t" textLength="8.3" lengthAdjust="spacingAndGlyphs">10</text>
<line x1="86.50" y1="569.50" x2="86.50" y2="572.00" stroke="#000" stroke-width="0.62"/>
<text x="81.06" y="580.75" font-size="8.45" class="t" textLength="8.3" lengthAdjust="spacingAndGlyphs">10</text>
<text x="89.56" y="577.55" font-size="5.1" class="t">0</text>
<line x1="164.50" y1="569.50" x2="164.50" y2="572.00" stroke="#000" stroke-width="0.62"/>
<text x="158.75" y="580.75" font-size="8.45" class="t" textLength="8.3" lengthAdjust="spacingAndGlyphs">10</text>
<text x="167.25" y="577.55" font-size="5.1" class="t">1</text>
<line x1="32.50" y1="569.50" x2="32.50" y2="571.00" stroke="#000" stroke-width="0.55"/>
<line x1="46.50" y1="569.50" x2="46.50" y2="571.00" stroke="#000" stroke-width="0.55"/>
<line x1="55.50" y1="569.50" x2="55.50" y2="571.00" stroke="#000" stroke-width="0.55"/>
<line x1="63.50" y1="569.50" x2="63.50" y2="571.00" stroke="#000" stroke-width="0.55"/>
<line x1="69.50" y1="569.50" x2="69.50" y2="571.00" stroke="#000" stroke-width="0.55"/>
<line x1="74.50" y1="569.50" x2="74.50" y2="571.00" stroke="#000" stroke-width="0.55"/>
<line x1="79.50" y1="569.50" x2="79.50" y2="571.00" stroke="#000" stroke-width="0.55"/>
<line x1="83.50" y1="569.50" x2="83.50" y2="571.00" stroke="#000" stroke-width="0.55"/>
<line x1="110.50" y1="569.50" x2="110.50" y2="571.00" stroke="#000" stroke-width="0.55"/>
<line x1="123.50" y1="569.50" x2="123.50" y2="571.00" stroke="#000" stroke-width="0.55"/>
<line x1="133.50" y1="569.50" x2="133.50" y2="571.00" stroke="#000" stroke-width="0.55"/>
<line x1="141.50" y1="569.50" x2="141.50" y2="571.00" stroke="#000" stroke-width="0.55"/>
<line x1="147.50" y1="569.50" x2="147.50" y2="571.00" stroke="#000" stroke-width="0.55"/>
<line x1="152.50" y1="569.50" x2="152.50" y2="571.00" stroke="#000" stroke-width="0.55"/>
<line x1="156.50" y1="569.50" x2="156.50" y2="571.00" stroke="#000" stroke-width="0.55"/>
<line x1="160.50" y1="569.50" x2="160.50" y2="571.00" stroke="#000" stroke-width="0.55"/>
<polyline points="33.20,491.40 36.10,490.50 39.70,490.00 42.60,488.40 46.20,488.40 48.30,489.50 50.30,487.90 53.00,485.20 56.80,483.40 60.30,480.80 62.70,477.50 65.10,474.00 67.40,475.70 69.80,476.90 72.70,477.30 74.50,472.80 76.30,466.90 78.00,458.60 79.80,452.10 81.30,446.80 82.80,446.20 84.50,449.20 86.50,451.30 87.70,445.60 89.30,441.80 90.80,443.90 92.20,444.40 93.20,447.00 94.60,445.90 96.00,445.40 97.20,450.30 98.50,455.30 99.80,452.40 101.00,454.80 102.50,462.50 103.70,463.60 104.80,470.70 106.30,463.60 107.40,455.40 108.90,449.50 109.80,453.60 110.70,460.90 111.30,459.48 111.90,456.60 112.60,454.58 113.30,454.80 113.90,458.91 114.50,460.90 115.10,457.91 115.70,456.00 116.30,458.11 116.90,457.70 117.50,452.06 118.10,448.90 118.65,450.44 119.20,450.10 119.80,449.91 120.40,452.40 120.90,452.56 121.40,451.00 122.00,452.78 122.60,457.20 123.15,453.72 123.70,448.90 124.45,447.72 125.20,448.30 125.75,455.32 126.30,458.90 127.00,454.70 127.70,453.60 128.30,454.00 128.90,453.00 129.50,456.83 130.10,464.20 130.85,461.59 131.60,456.60 132.40,459.93 133.20,466.00 133.90,464.46 134.60,460.70 135.20,459.87 135.80,463.10 136.40,467.14 137.00,467.80 137.70,469.88 138.40,474.30 138.85,471.04 139.30,466.00 139.90,461.41 140.50,460.10 141.10,461.17 141.70,460.50 142.15,462.31 142.60,468.40 143.00,464.18 143.40,457.70 144.00,460.95 144.60,466.00 145.20,469.52 145.80,467.80 146.20,469.31 146.60,474.30 147.10,473.01 147.60,469.00 148.20,467.27 148.80,470.10 149.35,470.40 149.90,468.40 150.40,467.98 150.90,473.10 151.30,473.35 151.70,471.30 152.10,475.48 152.50,484.90 153.00,484.38 153.50,479.60 153.95,473.90 154.40,470.70 155.00,475.29 155.60,474.30 156.20,470.56 156.80,470.10 157.20,471.13 157.60,467.80 158.00,460.46 158.40,459.50 158.90,466.51 159.40,469.00 159.85,469.91 160.30,475.40 160.90,473.64 161.50,467.80 161.90,471.13 162.30,478.40 162.75,478.61 163.20,471.90 163.65,473.36 164.10,477.80" fill="none" stroke="#000" stroke-width="0.55" stroke-linejoin="round"/>
<rect x="32.50" y="412.50" width="132.0" height="157.00" fill="none" stroke="#000" stroke-width="0.62"/>
<text x="46.30" y="553.60" font-size="10.5" textLength="43.62" lengthAdjust="spacingAndGlyphs">KMMH14</text>
<text x="98.50" y="591.00" text-anchor="middle" font-size="7.3" class="b" textLength="54" lengthAdjust="spacingAndGlyphs">Frequency (Hz)</text>
<text transform="translate(6.00,491.00) rotate(-90)" text-anchor="middle" font-size="7.3" class="b" textLength="86" lengthAdjust="spacingAndGlyphs">Site amplification factor</text>
<line x1="201.50" y1="569.50" x2="204.00" y2="569.50" stroke="#000" stroke-width="0.62"/>
<text x="198.34" y="569.55" text-anchor="end" font-size="5.1" class="t" textLength="6.30" lengthAdjust="spacingAndGlyphs">−1</text>
<text x="191.84" y="572.60" text-anchor="end" font-size="8.45" class="t" textLength="8.3" lengthAdjust="spacingAndGlyphs">10</text>
<line x1="202.50" y1="553.50" x2="204.00" y2="553.50" stroke="#000" stroke-width="0.55"/>
<line x1="202.50" y1="544.50" x2="204.00" y2="544.50" stroke="#000" stroke-width="0.55"/>
<line x1="202.50" y1="537.50" x2="204.00" y2="537.50" stroke="#000" stroke-width="0.55"/>
<line x1="202.50" y1="532.50" x2="204.00" y2="532.50" stroke="#000" stroke-width="0.55"/>
<line x1="202.50" y1="528.50" x2="204.00" y2="528.50" stroke="#000" stroke-width="0.55"/>
<line x1="202.50" y1="525.50" x2="204.00" y2="525.50" stroke="#000" stroke-width="0.55"/>
<line x1="202.50" y1="522.50" x2="204.00" y2="522.50" stroke="#000" stroke-width="0.55"/>
<line x1="202.50" y1="519.50" x2="204.00" y2="519.50" stroke="#000" stroke-width="0.55"/>
<line x1="201.50" y1="517.50" x2="204.00" y2="517.50" stroke="#000" stroke-width="0.62"/>
<text x="198.34" y="517.22" text-anchor="end" font-size="5.1" class="t">0</text>
<text x="195.30" y="520.27" text-anchor="end" font-size="8.45" class="t" textLength="8.3" lengthAdjust="spacingAndGlyphs">10</text>
<line x1="202.50" y1="501.50" x2="204.00" y2="501.50" stroke="#000" stroke-width="0.55"/>
<line x1="202.50" y1="492.50" x2="204.00" y2="492.50" stroke="#000" stroke-width="0.55"/>
<line x1="202.50" y1="485.50" x2="204.00" y2="485.50" stroke="#000" stroke-width="0.55"/>
<line x1="202.50" y1="480.50" x2="204.00" y2="480.50" stroke="#000" stroke-width="0.55"/>
<line x1="202.50" y1="476.50" x2="204.00" y2="476.50" stroke="#000" stroke-width="0.55"/>
<line x1="202.50" y1="472.50" x2="204.00" y2="472.50" stroke="#000" stroke-width="0.55"/>
<line x1="202.50" y1="469.50" x2="204.00" y2="469.50" stroke="#000" stroke-width="0.55"/>
<line x1="202.50" y1="467.50" x2="204.00" y2="467.50" stroke="#000" stroke-width="0.55"/>
<line x1="201.50" y1="464.50" x2="204.00" y2="464.50" stroke="#000" stroke-width="0.62"/>
<text x="198.34" y="464.88" text-anchor="end" font-size="5.1" class="t">1</text>
<text x="195.30" y="467.93" text-anchor="end" font-size="8.45" class="t" textLength="8.3" lengthAdjust="spacingAndGlyphs">10</text>
<line x1="202.50" y1="449.50" x2="204.00" y2="449.50" stroke="#000" stroke-width="0.55"/>
<line x1="202.50" y1="439.50" x2="204.00" y2="439.50" stroke="#000" stroke-width="0.55"/>
<line x1="202.50" y1="433.50" x2="204.00" y2="433.50" stroke="#000" stroke-width="0.55"/>
<line x1="202.50" y1="428.50" x2="204.00" y2="428.50" stroke="#000" stroke-width="0.55"/>
<line x1="202.50" y1="424.50" x2="204.00" y2="424.50" stroke="#000" stroke-width="0.55"/>
<line x1="202.50" y1="420.50" x2="204.00" y2="420.50" stroke="#000" stroke-width="0.55"/>
<line x1="202.50" y1="417.50" x2="204.00" y2="417.50" stroke="#000" stroke-width="0.55"/>
<line x1="202.50" y1="414.50" x2="204.00" y2="414.50" stroke="#000" stroke-width="0.55"/>
<line x1="201.50" y1="412.50" x2="204.00" y2="412.50" stroke="#000" stroke-width="0.62"/>
<text x="198.34" y="412.55" text-anchor="end" font-size="5.1" class="t">2</text>
<text x="195.30" y="415.60" text-anchor="end" font-size="8.45" class="t" textLength="8.3" lengthAdjust="spacingAndGlyphs">10</text>
<line x1="258.50" y1="569.50" x2="258.50" y2="572.00" stroke="#000" stroke-width="0.62"/>
<text x="252.56" y="580.75" font-size="8.45" class="t" textLength="8.3" lengthAdjust="spacingAndGlyphs">10</text>
<text x="261.06" y="577.55" font-size="5.1" class="t">0</text>
<line x1="336.00" y1="569.50" x2="336.00" y2="572.00" stroke="#000" stroke-width="0.62"/>
<text x="330.25" y="580.75" font-size="8.45" class="t" textLength="8.3" lengthAdjust="spacingAndGlyphs">10</text>
<text x="338.75" y="577.55" font-size="5.1" class="t">1</text>
<line x1="204.00" y1="569.50" x2="204.00" y2="571.00" stroke="#000" stroke-width="0.55"/>
<line x1="217.50" y1="569.50" x2="217.50" y2="571.00" stroke="#000" stroke-width="0.55"/>
<line x1="227.50" y1="569.50" x2="227.50" y2="571.00" stroke="#000" stroke-width="0.55"/>
<line x1="234.50" y1="569.50" x2="234.50" y2="571.00" stroke="#000" stroke-width="0.55"/>
<line x1="241.50" y1="569.50" x2="241.50" y2="571.00" stroke="#000" stroke-width="0.55"/>
<line x1="246.50" y1="569.50" x2="246.50" y2="571.00" stroke="#000" stroke-width="0.55"/>
<line x1="250.50" y1="569.50" x2="250.50" y2="571.00" stroke="#000" stroke-width="0.55"/>
<line x1="254.50" y1="569.50" x2="254.50" y2="571.00" stroke="#000" stroke-width="0.55"/>
<line x1="281.50" y1="569.50" x2="281.50" y2="571.00" stroke="#000" stroke-width="0.55"/>
<line x1="295.50" y1="569.50" x2="295.50" y2="571.00" stroke="#000" stroke-width="0.55"/>
<line x1="305.50" y1="569.50" x2="305.50" y2="571.00" stroke="#000" stroke-width="0.55"/>
<line x1="312.50" y1="569.50" x2="312.50" y2="571.00" stroke="#000" stroke-width="0.55"/>
<line x1="318.50" y1="569.50" x2="318.50" y2="571.00" stroke="#000" stroke-width="0.55"/>
<line x1="323.50" y1="569.50" x2="323.50" y2="571.00" stroke="#000" stroke-width="0.55"/>
<line x1="328.50" y1="569.50" x2="328.50" y2="571.00" stroke="#000" stroke-width="0.55"/>
<line x1="332.50" y1="569.50" x2="332.50" y2="571.00" stroke="#000" stroke-width="0.55"/>
<polyline points="204.80,488.40 207.10,487.80 210.70,484.50 213.60,478.40 216.60,474.60 219.50,471.30 221.90,465.40 224.20,459.30 226.60,461.30 228.70,463.60 230.70,461.90 232.50,462.50 234.30,460.90 235.80,458.60 237.50,460.90 239.60,468.40 241.40,471.90 243.70,464.80 246.10,461.30 248.80,457.40 250.80,460.50 252.60,460.10 254.90,458.60 256.70,454.20 258.20,454.80 260.30,450.30 261.80,452.40 263.20,456.90 264.40,458.90 265.80,450.70 267.30,447.10 268.30,447.70 269.10,446.50 270.60,449.30 272.00,450.00 273.30,456.00 274.40,455.40 275.50,458.70 276.40,461.20 277.80,456.00 278.70,450.60 280.50,445.90 282.20,451.30 283.00,451.48 283.80,450.00 284.50,449.78 285.20,451.30 286.00,454.16 286.80,455.15 287.60,458.10 288.37,456.51 289.13,451.72 289.90,449.30 290.60,449.48 291.30,447.30 292.15,441.36 293.00,438.20 293.80,442.72 294.60,445.20 295.30,447.13 296.00,451.30 296.55,448.74 297.10,443.20 297.55,445.06 298.00,450.60 298.70,450.32 299.40,446.60 299.85,442.94 300.30,443.20 300.85,449.79 301.40,454.00 302.05,450.54 302.70,450.00 303.25,452.05 303.80,452.00 304.50,454.99 305.20,461.40 305.85,459.45 306.50,455.40 306.95,451.47 307.40,450.00 307.90,455.35 308.40,458.10 309.05,450.98 309.70,448.60 310.60,447.07 311.50,441.20 312.15,443.92 312.80,448.60 313.50,453.39 314.20,454.00 314.65,451.39 315.10,453.30 315.65,458.90 316.20,461.40 316.90,464.36 317.60,469.50 317.90,476.90 318.20,479.60 318.90,474.28 319.60,470.90 320.25,476.43 320.90,479.00 321.80,471.27 322.70,468.80 323.50,475.45 324.30,476.30 324.85,472.64 325.40,471.50 325.85,474.72 326.30,473.60 326.80,470.38 327.30,472.20 327.85,478.02 328.40,479.60 328.90,475.36 329.40,473.60 329.90,479.49 330.40,480.30 331.05,478.51 331.70,483.00 332.40,483.54 333.10,479.60 333.55,479.78 334.00,485.70 334.55,492.14 335.10,492.50 335.45,493.73 335.80,497.80" fill="none" stroke="#000" stroke-width="0.55" stroke-linejoin="round"/>
<rect x="204.00" y="412.50" width="132.0" height="157.00" fill="none" stroke="#000" stroke-width="0.62"/>
<text x="217.80" y="553.60" font-size="10.5" textLength="43.62" lengthAdjust="spacingAndGlyphs">KMMH16</text>
<text x="270.00" y="591.00" text-anchor="middle" font-size="7.3" class="b" textLength="54" lengthAdjust="spacingAndGlyphs">Frequency (Hz)</text>
<text transform="translate(177.50,491.00) rotate(-90)" text-anchor="middle" font-size="7.3" class="b" textLength="86" lengthAdjust="spacingAndGlyphs">Site amplification factor</text>
<line x1="373.00" y1="569.50" x2="375.50" y2="569.50" stroke="#000" stroke-width="0.62"/>
<text x="369.84" y="569.55" text-anchor="end" font-size="5.1" class="t" textLength="6.30" lengthAdjust="spacingAndGlyphs">−1</text>
<text x="363.34" y="572.60" text-anchor="end" font-size="8.45" class="t" textLength="8.3" lengthAdjust="spacingAndGlyphs">10</text>
<line x1="374.00" y1="553.50" x2="375.50" y2="553.50" stroke="#000" stroke-width="0.55"/>
<line x1="374.00" y1="544.50" x2="375.50" y2="544.50" stroke="#000" stroke-width="0.55"/>
<line x1="374.00" y1="537.50" x2="375.50" y2="537.50" stroke="#000" stroke-width="0.55"/>
<line x1="374.00" y1="532.50" x2="375.50" y2="532.50" stroke="#000" stroke-width="0.55"/>
<line x1="374.00" y1="528.50" x2="375.50" y2="528.50" stroke="#000" stroke-width="0.55"/>
<line x1="374.00" y1="525.50" x2="375.50" y2="525.50" stroke="#000" stroke-width="0.55"/>
<line x1="374.00" y1="522.50" x2="375.50" y2="522.50" stroke="#000" stroke-width="0.55"/>
<line x1="374.00" y1="519.50" x2="375.50" y2="519.50" stroke="#000" stroke-width="0.55"/>
<line x1="373.00" y1="517.50" x2="375.50" y2="517.50" stroke="#000" stroke-width="0.62"/>
<text x="369.84" y="517.22" text-anchor="end" font-size="5.1" class="t">0</text>
<text x="366.80" y="520.27" text-anchor="end" font-size="8.45" class="t" textLength="8.3" lengthAdjust="spacingAndGlyphs">10</text>
<line x1="374.00" y1="501.50" x2="375.50" y2="501.50" stroke="#000" stroke-width="0.55"/>
<line x1="374.00" y1="492.50" x2="375.50" y2="492.50" stroke="#000" stroke-width="0.55"/>
<line x1="374.00" y1="485.50" x2="375.50" y2="485.50" stroke="#000" stroke-width="0.55"/>
<line x1="374.00" y1="480.50" x2="375.50" y2="480.50" stroke="#000" stroke-width="0.55"/>
<line x1="374.00" y1="476.50" x2="375.50" y2="476.50" stroke="#000" stroke-width="0.55"/>
<line x1="374.00" y1="472.50" x2="375.50" y2="472.50" stroke="#000" stroke-width="0.55"/>
<line x1="374.00" y1="469.50" x2="375.50" y2="469.50" stroke="#000" stroke-width="0.55"/>
<line x1="374.00" y1="467.50" x2="375.50" y2="467.50" stroke="#000" stroke-width="0.55"/>
<line x1="373.00" y1="464.50" x2="375.50" y2="464.50" stroke="#000" stroke-width="0.62"/>
<text x="369.84" y="464.88" text-anchor="end" font-size="5.1" class="t">1</text>
<text x="366.80" y="467.93" text-anchor="end" font-size="8.45" class="t" textLength="8.3" lengthAdjust="spacingAndGlyphs">10</text>
<line x1="374.00" y1="449.50" x2="375.50" y2="449.50" stroke="#000" stroke-width="0.55"/>
<line x1="374.00" y1="439.50" x2="375.50" y2="439.50" stroke="#000" stroke-width="0.55"/>
<line x1="374.00" y1="433.50" x2="375.50" y2="433.50" stroke="#000" stroke-width="0.55"/>
<line x1="374.00" y1="428.50" x2="375.50" y2="428.50" stroke="#000" stroke-width="0.55"/>
<line x1="374.00" y1="424.50" x2="375.50" y2="424.50" stroke="#000" stroke-width="0.55"/>
<line x1="374.00" y1="420.50" x2="375.50" y2="420.50" stroke="#000" stroke-width="0.55"/>
<line x1="374.00" y1="417.50" x2="375.50" y2="417.50" stroke="#000" stroke-width="0.55"/>
<line x1="374.00" y1="414.50" x2="375.50" y2="414.50" stroke="#000" stroke-width="0.55"/>
<line x1="373.00" y1="412.50" x2="375.50" y2="412.50" stroke="#000" stroke-width="0.62"/>
<text x="369.84" y="412.55" text-anchor="end" font-size="5.1" class="t">2</text>
<text x="366.80" y="415.60" text-anchor="end" font-size="8.45" class="t" textLength="8.3" lengthAdjust="spacingAndGlyphs">10</text>
<line x1="429.50" y1="569.50" x2="429.50" y2="572.00" stroke="#000" stroke-width="0.62"/>
<text x="424.06" y="580.75" font-size="8.45" class="t" textLength="8.3" lengthAdjust="spacingAndGlyphs">10</text>
<text x="432.56" y="577.55" font-size="5.1" class="t">0</text>
<line x1="507.50" y1="569.50" x2="507.50" y2="572.00" stroke="#000" stroke-width="0.62"/>
<text x="501.75" y="580.75" font-size="8.45" class="t" textLength="8.3" lengthAdjust="spacingAndGlyphs">10</text>
<text x="510.25" y="577.55" font-size="5.1" class="t">1</text>
<line x1="375.50" y1="569.50" x2="375.50" y2="571.00" stroke="#000" stroke-width="0.55"/>
<line x1="389.50" y1="569.50" x2="389.50" y2="571.00" stroke="#000" stroke-width="0.55"/>
<line x1="398.50" y1="569.50" x2="398.50" y2="571.00" stroke="#000" stroke-width="0.55"/>
<line x1="406.50" y1="569.50" x2="406.50" y2="571.00" stroke="#000" stroke-width="0.55"/>
<line x1="412.50" y1="569.50" x2="412.50" y2="571.00" stroke="#000" stroke-width="0.55"/>
<line x1="417.50" y1="569.50" x2="417.50" y2="571.00" stroke="#000" stroke-width="0.55"/>
<line x1="422.50" y1="569.50" x2="422.50" y2="571.00" stroke="#000" stroke-width="0.55"/>
<line x1="426.50" y1="569.50" x2="426.50" y2="571.00" stroke="#000" stroke-width="0.55"/>
<line x1="453.50" y1="569.50" x2="453.50" y2="571.00" stroke="#000" stroke-width="0.55"/>
<line x1="466.50" y1="569.50" x2="466.50" y2="571.00" stroke="#000" stroke-width="0.55"/>
<line x1="476.50" y1="569.50" x2="476.50" y2="571.00" stroke="#000" stroke-width="0.55"/>
<line x1="484.50" y1="569.50" x2="484.50" y2="571.00" stroke="#000" stroke-width="0.55"/>
<line x1="490.50" y1="569.50" x2="490.50" y2="571.00" stroke="#000" stroke-width="0.55"/>
<line x1="495.50" y1="569.50" x2="495.50" y2="571.00" stroke="#000" stroke-width="0.55"/>
<line x1="499.50" y1="569.50" x2="499.50" y2="571.00" stroke="#000" stroke-width="0.55"/>
<line x1="503.50" y1="569.50" x2="503.50" y2="571.00" stroke="#000" stroke-width="0.55"/>
<polyline points="376.20,471.10 378.50,470.10 382.10,467.20 385.60,464.50 388.00,464.50 390.90,461.90 393.70,460.50 396.00,461.60 398.00,466.00 400.40,469.00 403.30,469.00 407.10,465.20 409.80,467.50 411.60,469.00 413.40,471.30 414.50,468.40 415.70,467.20 416.90,469.20 418.40,467.50 420.40,469.90 422.20,466.40 423.60,468.00 425.80,466.00 427.50,471.30 429.10,464.80 430.70,460.50 432.60,458.30 434.30,460.90 435.80,465.40 437.30,470.40 438.70,469.00 440.50,463.10 441.00,461.50 442.20,463.30 443.40,462.10 444.50,465.10 445.70,471.60 447.50,473.30 449.00,475.90 450.20,468.60 451.60,461.50 452.80,467.40 454.20,468.00 454.80,467.51 455.40,465.70 456.00,466.14 456.60,468.60 457.35,467.09 458.10,464.50 458.90,463.14 459.70,464.10 460.10,464.20 460.50,462.70 461.10,460.31 461.70,460.30 462.25,463.81 462.80,466.20 463.40,466.20 464.00,468.00 464.60,472.76 465.20,474.50 465.95,473.63 466.70,475.90 467.30,479.38 467.90,479.80 468.50,478.21 469.10,478.60 469.70,481.01 470.30,481.60 471.00,479.15 471.70,478.60 472.30,484.92 472.90,489.30 473.60,486.54 474.30,486.30 474.90,487.86 475.50,487.50 475.95,489.49 476.40,493.40 477.00,491.65 477.60,485.70 478.05,481.32 478.50,481.40 479.10,486.53 479.70,488.70 480.10,486.50 480.50,486.90 481.10,492.98 481.70,494.60 482.15,488.74 482.60,486.90 483.15,483.59 483.70,477.50 484.30,477.25 484.90,480.40 485.50,482.03 486.10,478.60 486.70,479.52 487.30,485.70 487.75,486.42 488.20,484.00 488.80,486.02 489.40,491.60 489.85,496.37 490.30,496.90 490.90,493.88 491.50,493.40 492.10,496.87 492.70,495.20 493.30,491.11 493.90,492.80 494.50,496.47 495.10,495.20 495.65,494.71 496.20,499.10 496.80,499.85 497.40,494.60 498.00,493.88 498.60,497.50 499.00,497.12 499.40,492.80 500.00,493.22 500.60,496.90 501.20,501.34 501.80,499.90 502.10,500.81 502.40,505.80 502.85,504.41 503.30,497.50 503.90,495.78 504.50,498.70 505.10,499.18 505.70,494.60 506.30,494.22 506.90,500.50" fill="none" stroke="#000" stroke-width="0.55" stroke-linejoin="round"/>
<rect x="375.50" y="412.50" width="132.0" height="157.00" fill="none" stroke="#000" stroke-width="0.62"/>
<text x="389.30" y="553.60" font-size="10.5" textLength="40.25" lengthAdjust="spacingAndGlyphs">NGS012</text>
<text x="441.50" y="591.00" text-anchor="middle" font-size="7.3" class="b" textLength="54" lengthAdjust="spacingAndGlyphs">Frequency (Hz)</text>
<text transform="translate(349.00,491.00) rotate(-90)" text-anchor="middle" font-size="7.3" class="b" textLength="86" lengthAdjust="spacingAndGlyphs">Site amplification factor</text>
<line x1="544.50" y1="569.50" x2="547.00" y2="569.50" stroke="#000" stroke-width="0.62"/>
<text x="541.34" y="569.55" text-anchor="end" font-size="5.1" class="t" textLength="6.30" lengthAdjust="spacingAndGlyphs">−1</text>
<text x="534.84" y="572.60" text-anchor="end" font-size="8.45" class="t" textLength="8.3" lengthAdjust="spacingAndGlyphs">10</text>
<line x1="545.50" y1="553.50" x2="547.00" y2="553.50" stroke="#000" stroke-width="0.55"/>
<line x1="545.50" y1="544.50" x2="547.00" y2="544.50" stroke="#000" stroke-width="0.55"/>
<line x1="545.50" y1="537.50" x2="547.00" y2="537.50" stroke="#000" stroke-width="0.55"/>
<line x1="545.50" y1="532.50" x2="547.00" y2="532.50" stroke="#000" stroke-width="0.55"/>
<line x1="545.50" y1="528.50" x2="547.00" y2="528.50" stroke="#000" stroke-width="0.55"/>
<line x1="545.50" y1="525.50" x2="547.00" y2="525.50" stroke="#000" stroke-width="0.55"/>
<line x1="545.50" y1="522.50" x2="547.00" y2="522.50" stroke="#000" stroke-width="0.55"/>
<line x1="545.50" y1="519.50" x2="547.00" y2="519.50" stroke="#000" stroke-width="0.55"/>
<line x1="544.50" y1="517.50" x2="547.00" y2="517.50" stroke="#000" stroke-width="0.62"/>
<text x="541.34" y="517.22" text-anchor="end" font-size="5.1" class="t">0</text>
<text x="538.30" y="520.27" text-anchor="end" font-size="8.45" class="t" textLength="8.3" lengthAdjust="spacingAndGlyphs">10</text>
<line x1="545.50" y1="501.50" x2="547.00" y2="501.50" stroke="#000" stroke-width="0.55"/>
<line x1="545.50" y1="492.50" x2="547.00" y2="492.50" stroke="#000" stroke-width="0.55"/>
<line x1="545.50" y1="485.50" x2="547.00" y2="485.50" stroke="#000" stroke-width="0.55"/>
<line x1="545.50" y1="480.50" x2="547.00" y2="480.50" stroke="#000" stroke-width="0.55"/>
<line x1="545.50" y1="476.50" x2="547.00" y2="476.50" stroke="#000" stroke-width="0.55"/>
<line x1="545.50" y1="472.50" x2="547.00" y2="472.50" stroke="#000" stroke-width="0.55"/>
<line x1="545.50" y1="469.50" x2="547.00" y2="469.50" stroke="#000" stroke-width="0.55"/>
<line x1="545.50" y1="467.50" x2="547.00" y2="467.50" stroke="#000" stroke-width="0.55"/>
<line x1="544.50" y1="464.50" x2="547.00" y2="464.50" stroke="#000" stroke-width="0.62"/>
<text x="541.34" y="464.88" text-anchor="end" font-size="5.1" class="t">1</text>
<text x="538.30" y="467.93" text-anchor="end" font-size="8.45" class="t" textLength="8.3" lengthAdjust="spacingAndGlyphs">10</text>
<line x1="545.50" y1="449.50" x2="547.00" y2="449.50" stroke="#000" stroke-width="0.55"/>
<line x1="545.50" y1="439.50" x2="547.00" y2="439.50" stroke="#000" stroke-width="0.55"/>
<line x1="545.50" y1="433.50" x2="547.00" y2="433.50" stroke="#000" stroke-width="0.55"/>
<line x1="545.50" y1="428.50" x2="547.00" y2="428.50" stroke="#000" stroke-width="0.55"/>
<line x1="545.50" y1="424.50" x2="547.00" y2="424.50" stroke="#000" stroke-width="0.55"/>
<line x1="545.50" y1="420.50" x2="547.00" y2="420.50" stroke="#000" stroke-width="0.55"/>
<line x1="545.50" y1="417.50" x2="547.00" y2="417.50" stroke="#000" stroke-width="0.55"/>
<line x1="545.50" y1="414.50" x2="547.00" y2="414.50" stroke="#000" stroke-width="0.55"/>
<line x1="544.50" y1="412.50" x2="547.00" y2="412.50" stroke="#000" stroke-width="0.62"/>
<text x="541.34" y="412.55" text-anchor="end" font-size="5.1" class="t">2</text>
<text x="538.30" y="415.60" text-anchor="end" font-size="8.45" class="t" textLength="8.3" lengthAdjust="spacingAndGlyphs">10</text>
<line x1="601.50" y1="569.50" x2="601.50" y2="572.00" stroke="#000" stroke-width="0.62"/>
<text x="595.56" y="580.75" font-size="8.45" class="t" textLength="8.3" lengthAdjust="spacingAndGlyphs">10</text>
<text x="604.06" y="577.55" font-size="5.1" class="t">0</text>
<line x1="679.00" y1="569.50" x2="679.00" y2="572.00" stroke="#000" stroke-width="0.62"/>
<text x="673.25" y="580.75" font-size="8.45" class="t" textLength="8.3" lengthAdjust="spacingAndGlyphs">10</text>
<text x="681.75" y="577.55" font-size="5.1" class="t">1</text>
<line x1="547.00" y1="569.50" x2="547.00" y2="571.00" stroke="#000" stroke-width="0.55"/>
<line x1="560.50" y1="569.50" x2="560.50" y2="571.00" stroke="#000" stroke-width="0.55"/>
<line x1="570.50" y1="569.50" x2="570.50" y2="571.00" stroke="#000" stroke-width="0.55"/>
<line x1="577.50" y1="569.50" x2="577.50" y2="571.00" stroke="#000" stroke-width="0.55"/>
<line x1="584.50" y1="569.50" x2="584.50" y2="571.00" stroke="#000" stroke-width="0.55"/>
<line x1="589.50" y1="569.50" x2="589.50" y2="571.00" stroke="#000" stroke-width="0.55"/>
<line x1="593.50" y1="569.50" x2="593.50" y2="571.00" stroke="#000" stroke-width="0.55"/>
<line x1="597.50" y1="569.50" x2="597.50" y2="571.00" stroke="#000" stroke-width="0.55"/>
<line x1="624.50" y1="569.50" x2="624.50" y2="571.00" stroke="#000" stroke-width="0.55"/>
<line x1="638.50" y1="569.50" x2="638.50" y2="571.00" stroke="#000" stroke-width="0.55"/>
<line x1="648.50" y1="569.50" x2="648.50" y2="571.00" stroke="#000" stroke-width="0.55"/>
<line x1="655.50" y1="569.50" x2="655.50" y2="571.00" stroke="#000" stroke-width="0.55"/>
<line x1="661.50" y1="569.50" x2="661.50" y2="571.00" stroke="#000" stroke-width="0.55"/>
<line x1="666.50" y1="569.50" x2="666.50" y2="571.00" stroke="#000" stroke-width="0.55"/>
<line x1="671.50" y1="569.50" x2="671.50" y2="571.00" stroke="#000" stroke-width="0.55"/>
<line x1="675.50" y1="569.50" x2="675.50" y2="571.00" stroke="#000" stroke-width="0.55"/>
<polyline points="547.40,485.40 550.10,482.30 553.10,476.90 556.60,470.40 559.00,469.30 561.90,468.10 565.50,463.40 569.00,464.90 572.90,466.30 576.10,459.80 579.10,453.30 580.50,453.10 582.00,456.90 583.50,458.30 586.10,452.40 587.60,451.20 588.70,453.10 589.90,449.80 592.00,450.40 593.20,449.20 594.60,446.80 595.60,449.20 597.00,448.00 598.50,449.20 599.70,450.40 600.50,453.30 601.70,442.70 602.70,438.20 603.80,438.90 605.00,440.60 606.40,440.10 607.40,440.90 608.60,438.60 609.70,439.20 610.70,444.50 611.90,436.20 613.10,435.40 614.70,440.90 615.80,443.20 617.10,450.00 618.70,460.80 620.10,459.40 621.70,451.30 623.10,459.40 624.80,465.50 625.70,464.58 626.60,461.40 627.55,456.44 628.50,454.00 629.35,456.63 630.20,457.40 630.90,456.89 631.60,457.40 632.05,460.40 632.50,461.40 633.20,459.08 633.90,458.10 634.55,458.24 635.20,457.10 635.90,453.33 636.60,451.30 637.45,456.23 638.30,458.10 639.00,456.11 639.70,457.40 640.35,463.19 641.00,465.50 641.50,469.17 642.00,476.30 642.50,475.11 643.00,470.90 643.70,473.09 644.40,479.00 644.95,476.04 645.50,470.20 646.15,465.46 646.80,464.80 647.05,472.50 647.30,476.30 647.85,481.85 648.40,491.10 649.10,482.70 649.80,472.20 650.60,474.05 651.40,478.30 652.25,481.12 653.10,480.30 653.80,478.27 654.50,478.30 654.95,482.55 655.40,482.30 656.10,475.60 656.80,472.90 657.35,476.88 657.90,479.00 658.40,474.21 658.90,471.50 659.45,478.57 660.00,482.30 660.40,475.46 660.80,470.90 661.20,481.06 661.60,485.70 662.10,475.40 662.60,468.20 663.25,476.89 663.90,480.30 664.60,471.37 665.30,468.20 665.75,469.59 666.20,465.50 666.75,465.64 667.30,471.50 668.00,465.62 668.70,456.00 669.35,454.57 670.00,458.10 670.70,462.88 671.40,465.50 672.05,460.48 672.70,459.80 673.40,465.69 674.10,468.20 674.75,468.38 675.40,474.90 675.95,480.79 676.50,483.00 676.95,479.62 677.40,480.30 677.90,481.34 678.40,475.60" fill="none" stroke="#000" stroke-width="0.55" stroke-linejoin="round"/>
<rect x="547.00" y="412.50" width="132.0" height="157.00" fill="none" stroke="#000" stroke-width="0.62"/>
<text x="560.80" y="553.60" font-size="10.5" textLength="28.79" lengthAdjust="spacingAndGlyphs">KUMA</text>
<text x="613.00" y="591.00" text-anchor="middle" font-size="7.3" class="b" textLength="54" lengthAdjust="spacingAndGlyphs">Frequency (Hz)</text>
<text transform="translate(520.50,491.00) rotate(-90)" text-anchor="middle" font-size="7.3" class="b" textLength="86" lengthAdjust="spacingAndGlyphs">Site amplification factor</text>
</svg></body></html>
